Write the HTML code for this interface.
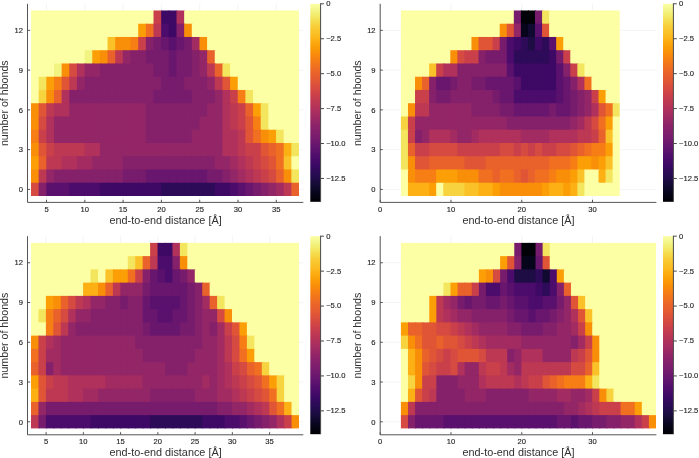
<!DOCTYPE html><html><head><meta charset="utf-8"><style>html,body{margin:0;padding:0;background:#fff;width:699px;height:458px;overflow:hidden}svg{display:block;will-change:transform}text{font-family:"Liberation Sans",sans-serif;fill:#262626;stroke:#262626;stroke-width:0.15px}</style></head><body>
<svg width="699" height="458" viewBox="0 0 699 458">
<defs><linearGradient id="cbg" x1="0" y1="0" x2="0" y2="1"><stop offset="0" stop-color="#fcffa4"/><stop offset="0.03" stop-color="#f3f68a"/><stop offset="0.06" stop-color="#f2ea69"/><stop offset="0.09" stop-color="#f5db4c"/><stop offset="0.12" stop-color="#f9cb35"/><stop offset="0.16" stop-color="#fbbc21"/><stop offset="0.19" stop-color="#fcac11"/><stop offset="0.22" stop-color="#fb9d07"/><stop offset="0.25" stop-color="#f98e09"/><stop offset="0.28" stop-color="#f68013"/><stop offset="0.31" stop-color="#f1731d"/><stop offset="0.34" stop-color="#eb6628"/><stop offset="0.38" stop-color="#e45a31"/><stop offset="0.41" stop-color="#db503b"/><stop offset="0.44" stop-color="#d24644"/><stop offset="0.47" stop-color="#c73e4c"/><stop offset="0.5" stop-color="#bc3754"/><stop offset="0.53" stop-color="#b0315b"/><stop offset="0.56" stop-color="#a32c61"/><stop offset="0.59" stop-color="#972766"/><stop offset="0.62" stop-color="#8a226a"/><stop offset="0.66" stop-color="#7d1e6d"/><stop offset="0.69" stop-color="#71196e"/><stop offset="0.72" stop-color="#64156e"/><stop offset="0.75" stop-color="#57106e"/><stop offset="0.78" stop-color="#4a0c6b"/><stop offset="0.81" stop-color="#3d0965"/><stop offset="0.84" stop-color="#2f0a5b"/><stop offset="0.88" stop-color="#210c4a"/><stop offset="0.91" stop-color="#150b37"/><stop offset="0.94" stop-color="#0b0724"/><stop offset="0.97" stop-color="#040312"/><stop offset="1" stop-color="#000004"/></linearGradient></defs>
<path d="M46.5 3.8V202.4M84.8 3.8V202.4M123.1 3.8V202.4M161.4 3.8V202.4M199.7 3.8V202.4M238 3.8V202.4M276.3 3.8V202.4M27.5 189.4H303.3M27.5 149.64H303.3M27.5 109.88H303.3M27.5 70.11H303.3M27.5 30.35H303.3" stroke="#efefef" stroke-width="0.7" fill="none"/>
<g><rect x="31" y="10.47" width="8.66" height="14.25" fill="#fcffa4"/><rect x="38.66" y="10.47" width="8.66" height="14.25" fill="#fcffa4"/><rect x="46.31" y="10.47" width="8.66" height="14.25" fill="#fcffa4"/><rect x="53.97" y="10.47" width="8.66" height="14.25" fill="#fcffa4"/><rect x="61.63" y="10.47" width="8.66" height="14.25" fill="#fcffa4"/><rect x="69.29" y="10.47" width="8.66" height="14.25" fill="#fcffa4"/><rect x="76.94" y="10.47" width="8.66" height="14.25" fill="#fcffa4"/><rect x="84.6" y="10.47" width="8.66" height="14.25" fill="#fcffa4"/><rect x="92.26" y="10.47" width="8.66" height="14.25" fill="#fcffa4"/><rect x="99.91" y="10.47" width="8.66" height="14.25" fill="#fcffa4"/><rect x="107.57" y="10.47" width="8.66" height="14.25" fill="#fcffa4"/><rect x="115.23" y="10.47" width="8.66" height="14.25" fill="#fcffa4"/><rect x="122.89" y="10.47" width="8.66" height="14.25" fill="#fcffa4"/><rect x="130.54" y="10.47" width="8.66" height="14.25" fill="#fcffa4"/><rect x="138.2" y="10.47" width="8.66" height="14.25" fill="#fcffa4"/><rect x="145.86" y="10.47" width="8.66" height="14.25" fill="#fcffa4"/><rect x="153.51" y="10.47" width="8.66" height="14.25" fill="#ca404a"/><rect x="161.17" y="10.47" width="8.66" height="14.25" fill="#3d0965"/><rect x="168.83" y="10.47" width="8.66" height="14.25" fill="#3d0965"/><rect x="176.49" y="10.47" width="8.66" height="14.25" fill="#b0315b"/><rect x="184.14" y="10.47" width="8.66" height="14.25" fill="#fcffa4"/><rect x="191.8" y="10.47" width="8.66" height="14.25" fill="#fcffa4"/><rect x="199.46" y="10.47" width="8.66" height="14.25" fill="#fcffa4"/><rect x="207.11" y="10.47" width="8.66" height="14.25" fill="#fcffa4"/><rect x="214.77" y="10.47" width="8.66" height="14.25" fill="#fcffa4"/><rect x="222.43" y="10.47" width="8.66" height="14.25" fill="#fcffa4"/><rect x="230.09" y="10.47" width="8.66" height="14.25" fill="#fcffa4"/><rect x="237.74" y="10.47" width="8.66" height="14.25" fill="#fcffa4"/><rect x="245.4" y="10.47" width="8.66" height="14.25" fill="#fcffa4"/><rect x="253.06" y="10.47" width="8.66" height="14.25" fill="#fcffa4"/><rect x="260.71" y="10.47" width="8.66" height="14.25" fill="#fcffa4"/><rect x="268.37" y="10.47" width="8.66" height="14.25" fill="#fcffa4"/><rect x="276.03" y="10.47" width="8.66" height="14.25" fill="#fcffa4"/><rect x="283.69" y="10.47" width="8.66" height="14.25" fill="#fcffa4"/><rect x="291.34" y="10.47" width="7.66" height="14.25" fill="#fcffa4"/><rect x="31" y="23.72" width="8.66" height="14.25" fill="#fcffa4"/><rect x="38.66" y="23.72" width="8.66" height="14.25" fill="#fcffa4"/><rect x="46.31" y="23.72" width="8.66" height="14.25" fill="#fcffa4"/><rect x="53.97" y="23.72" width="8.66" height="14.25" fill="#fcffa4"/><rect x="61.63" y="23.72" width="8.66" height="14.25" fill="#fcffa4"/><rect x="69.29" y="23.72" width="8.66" height="14.25" fill="#fcffa4"/><rect x="76.94" y="23.72" width="8.66" height="14.25" fill="#fcffa4"/><rect x="84.6" y="23.72" width="8.66" height="14.25" fill="#fcffa4"/><rect x="92.26" y="23.72" width="8.66" height="14.25" fill="#fcffa4"/><rect x="99.91" y="23.72" width="8.66" height="14.25" fill="#fcffa4"/><rect x="107.57" y="23.72" width="8.66" height="14.25" fill="#fcffa4"/><rect x="115.23" y="23.72" width="8.66" height="14.25" fill="#fcffa4"/><rect x="122.89" y="23.72" width="8.66" height="14.25" fill="#fcffa4"/><rect x="130.54" y="23.72" width="8.66" height="14.25" fill="#fcffa4"/><rect x="138.2" y="23.72" width="8.66" height="14.25" fill="#fc9f07"/><rect x="145.86" y="23.72" width="8.66" height="14.25" fill="#f06f20"/><rect x="153.51" y="23.72" width="8.66" height="14.25" fill="#bd3853"/><rect x="161.17" y="23.72" width="8.66" height="14.25" fill="#4c0c6b"/><rect x="168.83" y="23.72" width="8.66" height="14.25" fill="#3d0965"/><rect x="176.49" y="23.72" width="8.66" height="14.25" fill="#85216b"/><rect x="184.14" y="23.72" width="8.66" height="14.25" fill="#f98e09"/><rect x="191.8" y="23.72" width="8.66" height="14.25" fill="#fcffa4"/><rect x="199.46" y="23.72" width="8.66" height="14.25" fill="#fcffa4"/><rect x="207.11" y="23.72" width="8.66" height="14.25" fill="#fcffa4"/><rect x="214.77" y="23.72" width="8.66" height="14.25" fill="#fcffa4"/><rect x="222.43" y="23.72" width="8.66" height="14.25" fill="#fcffa4"/><rect x="230.09" y="23.72" width="8.66" height="14.25" fill="#fcffa4"/><rect x="237.74" y="23.72" width="8.66" height="14.25" fill="#fcffa4"/><rect x="245.4" y="23.72" width="8.66" height="14.25" fill="#fcffa4"/><rect x="253.06" y="23.72" width="8.66" height="14.25" fill="#fcffa4"/><rect x="260.71" y="23.72" width="8.66" height="14.25" fill="#fcffa4"/><rect x="268.37" y="23.72" width="8.66" height="14.25" fill="#fcffa4"/><rect x="276.03" y="23.72" width="8.66" height="14.25" fill="#fcffa4"/><rect x="283.69" y="23.72" width="8.66" height="14.25" fill="#fcffa4"/><rect x="291.34" y="23.72" width="7.66" height="14.25" fill="#fcffa4"/><rect x="31" y="36.97" width="8.66" height="14.25" fill="#fcffa4"/><rect x="38.66" y="36.97" width="8.66" height="14.25" fill="#fcffa4"/><rect x="46.31" y="36.97" width="8.66" height="14.25" fill="#fcffa4"/><rect x="53.97" y="36.97" width="8.66" height="14.25" fill="#fcffa4"/><rect x="61.63" y="36.97" width="8.66" height="14.25" fill="#fcffa4"/><rect x="69.29" y="36.97" width="8.66" height="14.25" fill="#fcffa4"/><rect x="76.94" y="36.97" width="8.66" height="14.25" fill="#fcffa4"/><rect x="84.6" y="36.97" width="8.66" height="14.25" fill="#fcffa4"/><rect x="92.26" y="36.97" width="8.66" height="14.25" fill="#fcffa4"/><rect x="99.91" y="36.97" width="8.66" height="14.25" fill="#fcffa4"/><rect x="107.57" y="36.97" width="8.66" height="14.25" fill="#fac228"/><rect x="115.23" y="36.97" width="8.66" height="14.25" fill="#f98e09"/><rect x="122.89" y="36.97" width="8.66" height="14.25" fill="#f98e09"/><rect x="130.54" y="36.97" width="8.66" height="14.25" fill="#f67e14"/><rect x="138.2" y="36.97" width="8.66" height="14.25" fill="#ca404a"/><rect x="145.86" y="36.97" width="8.66" height="14.25" fill="#85216b"/><rect x="153.51" y="36.97" width="8.66" height="14.25" fill="#771c6d"/><rect x="161.17" y="36.97" width="8.66" height="14.25" fill="#69166e"/><rect x="168.83" y="36.97" width="8.66" height="14.25" fill="#5a116e"/><rect x="176.49" y="36.97" width="8.66" height="14.25" fill="#69166e"/><rect x="184.14" y="36.97" width="8.66" height="14.25" fill="#771c6d"/><rect x="191.8" y="36.97" width="8.66" height="14.25" fill="#a22b62"/><rect x="199.46" y="36.97" width="8.66" height="14.25" fill="#f98e09"/><rect x="207.11" y="36.97" width="8.66" height="14.25" fill="#fcffa4"/><rect x="214.77" y="36.97" width="8.66" height="14.25" fill="#fcffa4"/><rect x="222.43" y="36.97" width="8.66" height="14.25" fill="#fcffa4"/><rect x="230.09" y="36.97" width="8.66" height="14.25" fill="#fcffa4"/><rect x="237.74" y="36.97" width="8.66" height="14.25" fill="#fcffa4"/><rect x="245.4" y="36.97" width="8.66" height="14.25" fill="#fcffa4"/><rect x="253.06" y="36.97" width="8.66" height="14.25" fill="#fcffa4"/><rect x="260.71" y="36.97" width="8.66" height="14.25" fill="#fcffa4"/><rect x="268.37" y="36.97" width="8.66" height="14.25" fill="#fcffa4"/><rect x="276.03" y="36.97" width="8.66" height="14.25" fill="#fcffa4"/><rect x="283.69" y="36.97" width="8.66" height="14.25" fill="#fcffa4"/><rect x="291.34" y="36.97" width="7.66" height="14.25" fill="#fcffa4"/><rect x="31" y="50.23" width="8.66" height="14.25" fill="#fcffa4"/><rect x="38.66" y="50.23" width="8.66" height="14.25" fill="#fcffa4"/><rect x="46.31" y="50.23" width="8.66" height="14.25" fill="#fcffa4"/><rect x="53.97" y="50.23" width="8.66" height="14.25" fill="#fcffa4"/><rect x="61.63" y="50.23" width="8.66" height="14.25" fill="#fcffa4"/><rect x="69.29" y="50.23" width="8.66" height="14.25" fill="#fcffa4"/><rect x="76.94" y="50.23" width="8.66" height="14.25" fill="#fcffa4"/><rect x="84.6" y="50.23" width="8.66" height="14.25" fill="#f2f482"/><rect x="92.26" y="50.23" width="8.66" height="14.25" fill="#fc9f07"/><rect x="99.91" y="50.23" width="8.66" height="14.25" fill="#f98e09"/><rect x="107.57" y="50.23" width="8.66" height="14.25" fill="#e9612b"/><rect x="115.23" y="50.23" width="8.66" height="14.25" fill="#bd3853"/><rect x="122.89" y="50.23" width="8.66" height="14.25" fill="#932667"/><rect x="130.54" y="50.23" width="8.66" height="14.25" fill="#85216b"/><rect x="138.2" y="50.23" width="8.66" height="14.25" fill="#85216b"/><rect x="145.86" y="50.23" width="8.66" height="14.25" fill="#771c6d"/><rect x="153.51" y="50.23" width="8.66" height="14.25" fill="#771c6d"/><rect x="161.17" y="50.23" width="8.66" height="14.25" fill="#771c6d"/><rect x="168.83" y="50.23" width="8.66" height="14.25" fill="#69166e"/><rect x="176.49" y="50.23" width="8.66" height="14.25" fill="#771c6d"/><rect x="184.14" y="50.23" width="8.66" height="14.25" fill="#771c6d"/><rect x="191.8" y="50.23" width="8.66" height="14.25" fill="#85216b"/><rect x="199.46" y="50.23" width="8.66" height="14.25" fill="#932667"/><rect x="207.11" y="50.23" width="8.66" height="14.25" fill="#e9612b"/><rect x="214.77" y="50.23" width="8.66" height="14.25" fill="#fcffa4"/><rect x="222.43" y="50.23" width="8.66" height="14.25" fill="#fcffa4"/><rect x="230.09" y="50.23" width="8.66" height="14.25" fill="#fcffa4"/><rect x="237.74" y="50.23" width="8.66" height="14.25" fill="#fcffa4"/><rect x="245.4" y="50.23" width="8.66" height="14.25" fill="#fcffa4"/><rect x="253.06" y="50.23" width="8.66" height="14.25" fill="#fcffa4"/><rect x="260.71" y="50.23" width="8.66" height="14.25" fill="#fcffa4"/><rect x="268.37" y="50.23" width="8.66" height="14.25" fill="#fcffa4"/><rect x="276.03" y="50.23" width="8.66" height="14.25" fill="#fcffa4"/><rect x="283.69" y="50.23" width="8.66" height="14.25" fill="#fcffa4"/><rect x="291.34" y="50.23" width="7.66" height="14.25" fill="#fcffa4"/><rect x="31" y="63.48" width="8.66" height="14.25" fill="#fcffa4"/><rect x="38.66" y="63.48" width="8.66" height="14.25" fill="#fcffa4"/><rect x="46.31" y="63.48" width="8.66" height="14.25" fill="#fcffa4"/><rect x="53.97" y="63.48" width="8.66" height="14.25" fill="#f2f482"/><rect x="61.63" y="63.48" width="8.66" height="14.25" fill="#f98e09"/><rect x="69.29" y="63.48" width="8.66" height="14.25" fill="#d54a41"/><rect x="76.94" y="63.48" width="8.66" height="14.25" fill="#b0315b"/><rect x="84.6" y="63.48" width="8.66" height="14.25" fill="#932667"/><rect x="92.26" y="63.48" width="8.66" height="14.25" fill="#932667"/><rect x="99.91" y="63.48" width="8.66" height="14.25" fill="#85216b"/><rect x="107.57" y="63.48" width="8.66" height="14.25" fill="#85216b"/><rect x="115.23" y="63.48" width="8.66" height="14.25" fill="#85216b"/><rect x="122.89" y="63.48" width="8.66" height="14.25" fill="#85216b"/><rect x="130.54" y="63.48" width="8.66" height="14.25" fill="#85216b"/><rect x="138.2" y="63.48" width="8.66" height="14.25" fill="#85216b"/><rect x="145.86" y="63.48" width="8.66" height="14.25" fill="#85216b"/><rect x="153.51" y="63.48" width="8.66" height="14.25" fill="#771c6d"/><rect x="161.17" y="63.48" width="8.66" height="14.25" fill="#771c6d"/><rect x="168.83" y="63.48" width="8.66" height="14.25" fill="#69166e"/><rect x="176.49" y="63.48" width="8.66" height="14.25" fill="#771c6d"/><rect x="184.14" y="63.48" width="8.66" height="14.25" fill="#771c6d"/><rect x="191.8" y="63.48" width="8.66" height="14.25" fill="#85216b"/><rect x="199.46" y="63.48" width="8.66" height="14.25" fill="#932667"/><rect x="207.11" y="63.48" width="8.66" height="14.25" fill="#bd3853"/><rect x="214.77" y="63.48" width="8.66" height="14.25" fill="#e9612b"/><rect x="222.43" y="63.48" width="8.66" height="14.25" fill="#f3e55d"/><rect x="230.09" y="63.48" width="8.66" height="14.25" fill="#fcffa4"/><rect x="237.74" y="63.48" width="8.66" height="14.25" fill="#fcffa4"/><rect x="245.4" y="63.48" width="8.66" height="14.25" fill="#fcffa4"/><rect x="253.06" y="63.48" width="8.66" height="14.25" fill="#fcffa4"/><rect x="260.71" y="63.48" width="8.66" height="14.25" fill="#fcffa4"/><rect x="268.37" y="63.48" width="8.66" height="14.25" fill="#fcffa4"/><rect x="276.03" y="63.48" width="8.66" height="14.25" fill="#fcffa4"/><rect x="283.69" y="63.48" width="8.66" height="14.25" fill="#fcffa4"/><rect x="291.34" y="63.48" width="7.66" height="14.25" fill="#fcffa4"/><rect x="31" y="76.73" width="8.66" height="14.25" fill="#fcffa4"/><rect x="38.66" y="76.73" width="8.66" height="14.25" fill="#f3e55d"/><rect x="46.31" y="76.73" width="8.66" height="14.25" fill="#fc9f07"/><rect x="53.97" y="76.73" width="8.66" height="14.25" fill="#f67e14"/><rect x="61.63" y="76.73" width="8.66" height="14.25" fill="#e05536"/><rect x="69.29" y="76.73" width="8.66" height="14.25" fill="#bd3853"/><rect x="76.94" y="76.73" width="8.66" height="14.25" fill="#932667"/><rect x="84.6" y="76.73" width="8.66" height="14.25" fill="#85216b"/><rect x="92.26" y="76.73" width="8.66" height="14.25" fill="#85216b"/><rect x="99.91" y="76.73" width="8.66" height="14.25" fill="#85216b"/><rect x="107.57" y="76.73" width="8.66" height="14.25" fill="#85216b"/><rect x="115.23" y="76.73" width="8.66" height="14.25" fill="#85216b"/><rect x="122.89" y="76.73" width="8.66" height="14.25" fill="#85216b"/><rect x="130.54" y="76.73" width="8.66" height="14.25" fill="#85216b"/><rect x="138.2" y="76.73" width="8.66" height="14.25" fill="#85216b"/><rect x="145.86" y="76.73" width="8.66" height="14.25" fill="#85216b"/><rect x="153.51" y="76.73" width="8.66" height="14.25" fill="#85216b"/><rect x="161.17" y="76.73" width="8.66" height="14.25" fill="#771c6d"/><rect x="168.83" y="76.73" width="8.66" height="14.25" fill="#771c6d"/><rect x="176.49" y="76.73" width="8.66" height="14.25" fill="#771c6d"/><rect x="184.14" y="76.73" width="8.66" height="14.25" fill="#85216b"/><rect x="191.8" y="76.73" width="8.66" height="14.25" fill="#85216b"/><rect x="199.46" y="76.73" width="8.66" height="14.25" fill="#85216b"/><rect x="207.11" y="76.73" width="8.66" height="14.25" fill="#932667"/><rect x="214.77" y="76.73" width="8.66" height="14.25" fill="#bd3853"/><rect x="222.43" y="76.73" width="8.66" height="14.25" fill="#e05536"/><rect x="230.09" y="76.73" width="8.66" height="14.25" fill="#fc9f07"/><rect x="237.74" y="76.73" width="8.66" height="14.25" fill="#fcffa4"/><rect x="245.4" y="76.73" width="8.66" height="14.25" fill="#fcffa4"/><rect x="253.06" y="76.73" width="8.66" height="14.25" fill="#fcffa4"/><rect x="260.71" y="76.73" width="8.66" height="14.25" fill="#fcffa4"/><rect x="268.37" y="76.73" width="8.66" height="14.25" fill="#fcffa4"/><rect x="276.03" y="76.73" width="8.66" height="14.25" fill="#fcffa4"/><rect x="283.69" y="76.73" width="8.66" height="14.25" fill="#fcffa4"/><rect x="291.34" y="76.73" width="7.66" height="14.25" fill="#fcffa4"/><rect x="31" y="89.98" width="8.66" height="14.25" fill="#fcffa4"/><rect x="38.66" y="89.98" width="8.66" height="14.25" fill="#f7d340"/><rect x="46.31" y="89.98" width="8.66" height="14.25" fill="#f98e09"/><rect x="53.97" y="89.98" width="8.66" height="14.25" fill="#e9612b"/><rect x="61.63" y="89.98" width="8.66" height="14.25" fill="#b0315b"/><rect x="69.29" y="89.98" width="8.66" height="14.25" fill="#85216b"/><rect x="76.94" y="89.98" width="8.66" height="14.25" fill="#85216b"/><rect x="84.6" y="89.98" width="8.66" height="14.25" fill="#85216b"/><rect x="92.26" y="89.98" width="8.66" height="14.25" fill="#85216b"/><rect x="99.91" y="89.98" width="8.66" height="14.25" fill="#85216b"/><rect x="107.57" y="89.98" width="8.66" height="14.25" fill="#85216b"/><rect x="115.23" y="89.98" width="8.66" height="14.25" fill="#85216b"/><rect x="122.89" y="89.98" width="8.66" height="14.25" fill="#85216b"/><rect x="130.54" y="89.98" width="8.66" height="14.25" fill="#85216b"/><rect x="138.2" y="89.98" width="8.66" height="14.25" fill="#85216b"/><rect x="145.86" y="89.98" width="8.66" height="14.25" fill="#85216b"/><rect x="153.51" y="89.98" width="8.66" height="14.25" fill="#771c6d"/><rect x="161.17" y="89.98" width="8.66" height="14.25" fill="#771c6d"/><rect x="168.83" y="89.98" width="8.66" height="14.25" fill="#771c6d"/><rect x="176.49" y="89.98" width="8.66" height="14.25" fill="#771c6d"/><rect x="184.14" y="89.98" width="8.66" height="14.25" fill="#771c6d"/><rect x="191.8" y="89.98" width="8.66" height="14.25" fill="#85216b"/><rect x="199.46" y="89.98" width="8.66" height="14.25" fill="#85216b"/><rect x="207.11" y="89.98" width="8.66" height="14.25" fill="#85216b"/><rect x="214.77" y="89.98" width="8.66" height="14.25" fill="#932667"/><rect x="222.43" y="89.98" width="8.66" height="14.25" fill="#b0315b"/><rect x="230.09" y="89.98" width="8.66" height="14.25" fill="#ca404a"/><rect x="237.74" y="89.98" width="8.66" height="14.25" fill="#f67e14"/><rect x="245.4" y="89.98" width="8.66" height="14.25" fill="#f3e55d"/><rect x="253.06" y="89.98" width="8.66" height="14.25" fill="#fcffa4"/><rect x="260.71" y="89.98" width="8.66" height="14.25" fill="#fcffa4"/><rect x="268.37" y="89.98" width="8.66" height="14.25" fill="#fcffa4"/><rect x="276.03" y="89.98" width="8.66" height="14.25" fill="#fcffa4"/><rect x="283.69" y="89.98" width="8.66" height="14.25" fill="#fcffa4"/><rect x="291.34" y="89.98" width="7.66" height="14.25" fill="#fcffa4"/><rect x="31" y="103.23" width="8.66" height="14.25" fill="#f98e09"/><rect x="38.66" y="103.23" width="8.66" height="14.25" fill="#e05536"/><rect x="46.31" y="103.23" width="8.66" height="14.25" fill="#bd3853"/><rect x="53.97" y="103.23" width="8.66" height="14.25" fill="#b0315b"/><rect x="61.63" y="103.23" width="8.66" height="14.25" fill="#b0315b"/><rect x="69.29" y="103.23" width="8.66" height="14.25" fill="#932667"/><rect x="76.94" y="103.23" width="8.66" height="14.25" fill="#932667"/><rect x="84.6" y="103.23" width="8.66" height="14.25" fill="#932667"/><rect x="92.26" y="103.23" width="8.66" height="14.25" fill="#932667"/><rect x="99.91" y="103.23" width="8.66" height="14.25" fill="#932667"/><rect x="107.57" y="103.23" width="8.66" height="14.25" fill="#932667"/><rect x="115.23" y="103.23" width="8.66" height="14.25" fill="#932667"/><rect x="122.89" y="103.23" width="8.66" height="14.25" fill="#932667"/><rect x="130.54" y="103.23" width="8.66" height="14.25" fill="#932667"/><rect x="138.2" y="103.23" width="8.66" height="14.25" fill="#932667"/><rect x="145.86" y="103.23" width="8.66" height="14.25" fill="#85216b"/><rect x="153.51" y="103.23" width="8.66" height="14.25" fill="#85216b"/><rect x="161.17" y="103.23" width="8.66" height="14.25" fill="#85216b"/><rect x="168.83" y="103.23" width="8.66" height="14.25" fill="#85216b"/><rect x="176.49" y="103.23" width="8.66" height="14.25" fill="#85216b"/><rect x="184.14" y="103.23" width="8.66" height="14.25" fill="#85216b"/><rect x="191.8" y="103.23" width="8.66" height="14.25" fill="#85216b"/><rect x="199.46" y="103.23" width="8.66" height="14.25" fill="#85216b"/><rect x="207.11" y="103.23" width="8.66" height="14.25" fill="#932667"/><rect x="214.77" y="103.23" width="8.66" height="14.25" fill="#932667"/><rect x="222.43" y="103.23" width="8.66" height="14.25" fill="#b0315b"/><rect x="230.09" y="103.23" width="8.66" height="14.25" fill="#bd3853"/><rect x="237.74" y="103.23" width="8.66" height="14.25" fill="#ca404a"/><rect x="245.4" y="103.23" width="8.66" height="14.25" fill="#e9612b"/><rect x="253.06" y="103.23" width="8.66" height="14.25" fill="#fc9f07"/><rect x="260.71" y="103.23" width="8.66" height="14.25" fill="#f3e55d"/><rect x="268.37" y="103.23" width="8.66" height="14.25" fill="#fcffa4"/><rect x="276.03" y="103.23" width="8.66" height="14.25" fill="#fcffa4"/><rect x="283.69" y="103.23" width="8.66" height="14.25" fill="#fcffa4"/><rect x="291.34" y="103.23" width="7.66" height="14.25" fill="#fcffa4"/><rect x="31" y="116.49" width="8.66" height="14.25" fill="#f98e09"/><rect x="38.66" y="116.49" width="8.66" height="14.25" fill="#d54a41"/><rect x="46.31" y="116.49" width="8.66" height="14.25" fill="#b0315b"/><rect x="53.97" y="116.49" width="8.66" height="14.25" fill="#932667"/><rect x="61.63" y="116.49" width="8.66" height="14.25" fill="#932667"/><rect x="69.29" y="116.49" width="8.66" height="14.25" fill="#932667"/><rect x="76.94" y="116.49" width="8.66" height="14.25" fill="#932667"/><rect x="84.6" y="116.49" width="8.66" height="14.25" fill="#932667"/><rect x="92.26" y="116.49" width="8.66" height="14.25" fill="#932667"/><rect x="99.91" y="116.49" width="8.66" height="14.25" fill="#932667"/><rect x="107.57" y="116.49" width="8.66" height="14.25" fill="#932667"/><rect x="115.23" y="116.49" width="8.66" height="14.25" fill="#932667"/><rect x="122.89" y="116.49" width="8.66" height="14.25" fill="#932667"/><rect x="130.54" y="116.49" width="8.66" height="14.25" fill="#932667"/><rect x="138.2" y="116.49" width="8.66" height="14.25" fill="#932667"/><rect x="145.86" y="116.49" width="8.66" height="14.25" fill="#85216b"/><rect x="153.51" y="116.49" width="8.66" height="14.25" fill="#85216b"/><rect x="161.17" y="116.49" width="8.66" height="14.25" fill="#85216b"/><rect x="168.83" y="116.49" width="8.66" height="14.25" fill="#85216b"/><rect x="176.49" y="116.49" width="8.66" height="14.25" fill="#85216b"/><rect x="184.14" y="116.49" width="8.66" height="14.25" fill="#85216b"/><rect x="191.8" y="116.49" width="8.66" height="14.25" fill="#85216b"/><rect x="199.46" y="116.49" width="8.66" height="14.25" fill="#932667"/><rect x="207.11" y="116.49" width="8.66" height="14.25" fill="#932667"/><rect x="214.77" y="116.49" width="8.66" height="14.25" fill="#932667"/><rect x="222.43" y="116.49" width="8.66" height="14.25" fill="#b0315b"/><rect x="230.09" y="116.49" width="8.66" height="14.25" fill="#bd3853"/><rect x="237.74" y="116.49" width="8.66" height="14.25" fill="#ca404a"/><rect x="245.4" y="116.49" width="8.66" height="14.25" fill="#e05536"/><rect x="253.06" y="116.49" width="8.66" height="14.25" fill="#f67e14"/><rect x="260.71" y="116.49" width="8.66" height="14.25" fill="#f3e55d"/><rect x="268.37" y="116.49" width="8.66" height="14.25" fill="#fcffa4"/><rect x="276.03" y="116.49" width="8.66" height="14.25" fill="#fcffa4"/><rect x="283.69" y="116.49" width="8.66" height="14.25" fill="#fcffa4"/><rect x="291.34" y="116.49" width="7.66" height="14.25" fill="#fcffa4"/><rect x="31" y="129.74" width="8.66" height="14.25" fill="#f67e14"/><rect x="38.66" y="129.74" width="8.66" height="14.25" fill="#ca404a"/><rect x="46.31" y="129.74" width="8.66" height="14.25" fill="#b0315b"/><rect x="53.97" y="129.74" width="8.66" height="14.25" fill="#932667"/><rect x="61.63" y="129.74" width="8.66" height="14.25" fill="#932667"/><rect x="69.29" y="129.74" width="8.66" height="14.25" fill="#932667"/><rect x="76.94" y="129.74" width="8.66" height="14.25" fill="#932667"/><rect x="84.6" y="129.74" width="8.66" height="14.25" fill="#932667"/><rect x="92.26" y="129.74" width="8.66" height="14.25" fill="#932667"/><rect x="99.91" y="129.74" width="8.66" height="14.25" fill="#932667"/><rect x="107.57" y="129.74" width="8.66" height="14.25" fill="#932667"/><rect x="115.23" y="129.74" width="8.66" height="14.25" fill="#932667"/><rect x="122.89" y="129.74" width="8.66" height="14.25" fill="#932667"/><rect x="130.54" y="129.74" width="8.66" height="14.25" fill="#932667"/><rect x="138.2" y="129.74" width="8.66" height="14.25" fill="#932667"/><rect x="145.86" y="129.74" width="8.66" height="14.25" fill="#85216b"/><rect x="153.51" y="129.74" width="8.66" height="14.25" fill="#85216b"/><rect x="161.17" y="129.74" width="8.66" height="14.25" fill="#85216b"/><rect x="168.83" y="129.74" width="8.66" height="14.25" fill="#85216b"/><rect x="176.49" y="129.74" width="8.66" height="14.25" fill="#85216b"/><rect x="184.14" y="129.74" width="8.66" height="14.25" fill="#85216b"/><rect x="191.8" y="129.74" width="8.66" height="14.25" fill="#932667"/><rect x="199.46" y="129.74" width="8.66" height="14.25" fill="#932667"/><rect x="207.11" y="129.74" width="8.66" height="14.25" fill="#932667"/><rect x="214.77" y="129.74" width="8.66" height="14.25" fill="#932667"/><rect x="222.43" y="129.74" width="8.66" height="14.25" fill="#b0315b"/><rect x="230.09" y="129.74" width="8.66" height="14.25" fill="#b0315b"/><rect x="237.74" y="129.74" width="8.66" height="14.25" fill="#bd3853"/><rect x="245.4" y="129.74" width="8.66" height="14.25" fill="#e05536"/><rect x="253.06" y="129.74" width="8.66" height="14.25" fill="#f06f20"/><rect x="260.71" y="129.74" width="8.66" height="14.25" fill="#f98e09"/><rect x="268.37" y="129.74" width="8.66" height="14.25" fill="#fc9f07"/><rect x="276.03" y="129.74" width="8.66" height="14.25" fill="#f3e55d"/><rect x="283.69" y="129.74" width="8.66" height="14.25" fill="#fcffa4"/><rect x="291.34" y="129.74" width="7.66" height="14.25" fill="#fcffa4"/><rect x="31" y="142.99" width="8.66" height="14.25" fill="#f98e09"/><rect x="38.66" y="142.99" width="8.66" height="14.25" fill="#e05536"/><rect x="46.31" y="142.99" width="8.66" height="14.25" fill="#ca404a"/><rect x="53.97" y="142.99" width="8.66" height="14.25" fill="#bd3853"/><rect x="61.63" y="142.99" width="8.66" height="14.25" fill="#bd3853"/><rect x="69.29" y="142.99" width="8.66" height="14.25" fill="#bd3853"/><rect x="76.94" y="142.99" width="8.66" height="14.25" fill="#bd3853"/><rect x="84.6" y="142.99" width="8.66" height="14.25" fill="#b0315b"/><rect x="92.26" y="142.99" width="8.66" height="14.25" fill="#b0315b"/><rect x="99.91" y="142.99" width="8.66" height="14.25" fill="#932667"/><rect x="107.57" y="142.99" width="8.66" height="14.25" fill="#932667"/><rect x="115.23" y="142.99" width="8.66" height="14.25" fill="#932667"/><rect x="122.89" y="142.99" width="8.66" height="14.25" fill="#932667"/><rect x="130.54" y="142.99" width="8.66" height="14.25" fill="#932667"/><rect x="138.2" y="142.99" width="8.66" height="14.25" fill="#932667"/><rect x="145.86" y="142.99" width="8.66" height="14.25" fill="#932667"/><rect x="153.51" y="142.99" width="8.66" height="14.25" fill="#932667"/><rect x="161.17" y="142.99" width="8.66" height="14.25" fill="#932667"/><rect x="168.83" y="142.99" width="8.66" height="14.25" fill="#932667"/><rect x="176.49" y="142.99" width="8.66" height="14.25" fill="#932667"/><rect x="184.14" y="142.99" width="8.66" height="14.25" fill="#932667"/><rect x="191.8" y="142.99" width="8.66" height="14.25" fill="#932667"/><rect x="199.46" y="142.99" width="8.66" height="14.25" fill="#932667"/><rect x="207.11" y="142.99" width="8.66" height="14.25" fill="#932667"/><rect x="214.77" y="142.99" width="8.66" height="14.25" fill="#932667"/><rect x="222.43" y="142.99" width="8.66" height="14.25" fill="#b0315b"/><rect x="230.09" y="142.99" width="8.66" height="14.25" fill="#b0315b"/><rect x="237.74" y="142.99" width="8.66" height="14.25" fill="#bd3853"/><rect x="245.4" y="142.99" width="8.66" height="14.25" fill="#ca404a"/><rect x="253.06" y="142.99" width="8.66" height="14.25" fill="#ca404a"/><rect x="260.71" y="142.99" width="8.66" height="14.25" fill="#e05536"/><rect x="268.37" y="142.99" width="8.66" height="14.25" fill="#e9612b"/><rect x="276.03" y="142.99" width="8.66" height="14.25" fill="#f06f20"/><rect x="283.69" y="142.99" width="8.66" height="14.25" fill="#fcb014"/><rect x="291.34" y="142.99" width="7.66" height="14.25" fill="#f3e55d"/><rect x="31" y="156.24" width="8.66" height="14.25" fill="#fc9f07"/><rect x="38.66" y="156.24" width="8.66" height="14.25" fill="#e9612b"/><rect x="46.31" y="156.24" width="8.66" height="14.25" fill="#bd3853"/><rect x="53.97" y="156.24" width="8.66" height="14.25" fill="#bd3853"/><rect x="61.63" y="156.24" width="8.66" height="14.25" fill="#b0315b"/><rect x="69.29" y="156.24" width="8.66" height="14.25" fill="#b0315b"/><rect x="76.94" y="156.24" width="8.66" height="14.25" fill="#a22b62"/><rect x="84.6" y="156.24" width="8.66" height="14.25" fill="#a22b62"/><rect x="92.26" y="156.24" width="8.66" height="14.25" fill="#932667"/><rect x="99.91" y="156.24" width="8.66" height="14.25" fill="#932667"/><rect x="107.57" y="156.24" width="8.66" height="14.25" fill="#932667"/><rect x="115.23" y="156.24" width="8.66" height="14.25" fill="#932667"/><rect x="122.89" y="156.24" width="8.66" height="14.25" fill="#85216b"/><rect x="130.54" y="156.24" width="8.66" height="14.25" fill="#85216b"/><rect x="138.2" y="156.24" width="8.66" height="14.25" fill="#85216b"/><rect x="145.86" y="156.24" width="8.66" height="14.25" fill="#85216b"/><rect x="153.51" y="156.24" width="8.66" height="14.25" fill="#85216b"/><rect x="161.17" y="156.24" width="8.66" height="14.25" fill="#85216b"/><rect x="168.83" y="156.24" width="8.66" height="14.25" fill="#85216b"/><rect x="176.49" y="156.24" width="8.66" height="14.25" fill="#85216b"/><rect x="184.14" y="156.24" width="8.66" height="14.25" fill="#85216b"/><rect x="191.8" y="156.24" width="8.66" height="14.25" fill="#85216b"/><rect x="199.46" y="156.24" width="8.66" height="14.25" fill="#85216b"/><rect x="207.11" y="156.24" width="8.66" height="14.25" fill="#85216b"/><rect x="214.77" y="156.24" width="8.66" height="14.25" fill="#932667"/><rect x="222.43" y="156.24" width="8.66" height="14.25" fill="#932667"/><rect x="230.09" y="156.24" width="8.66" height="14.25" fill="#a22b62"/><rect x="237.74" y="156.24" width="8.66" height="14.25" fill="#b0315b"/><rect x="245.4" y="156.24" width="8.66" height="14.25" fill="#bd3853"/><rect x="253.06" y="156.24" width="8.66" height="14.25" fill="#ca404a"/><rect x="260.71" y="156.24" width="8.66" height="14.25" fill="#d54a41"/><rect x="268.37" y="156.24" width="8.66" height="14.25" fill="#e05536"/><rect x="276.03" y="156.24" width="8.66" height="14.25" fill="#f06f20"/><rect x="283.69" y="156.24" width="8.66" height="14.25" fill="#fac228"/><rect x="291.34" y="156.24" width="7.66" height="14.25" fill="#fcffa4"/><rect x="31" y="169.5" width="8.66" height="14.25" fill="#f98e09"/><rect x="38.66" y="169.5" width="8.66" height="14.25" fill="#bd3853"/><rect x="46.31" y="169.5" width="8.66" height="14.25" fill="#932667"/><rect x="53.97" y="169.5" width="8.66" height="14.25" fill="#85216b"/><rect x="61.63" y="169.5" width="8.66" height="14.25" fill="#85216b"/><rect x="69.29" y="169.5" width="8.66" height="14.25" fill="#85216b"/><rect x="76.94" y="169.5" width="8.66" height="14.25" fill="#85216b"/><rect x="84.6" y="169.5" width="8.66" height="14.25" fill="#85216b"/><rect x="92.26" y="169.5" width="8.66" height="14.25" fill="#85216b"/><rect x="99.91" y="169.5" width="8.66" height="14.25" fill="#85216b"/><rect x="107.57" y="169.5" width="8.66" height="14.25" fill="#85216b"/><rect x="115.23" y="169.5" width="8.66" height="14.25" fill="#85216b"/><rect x="122.89" y="169.5" width="8.66" height="14.25" fill="#771c6d"/><rect x="130.54" y="169.5" width="8.66" height="14.25" fill="#771c6d"/><rect x="138.2" y="169.5" width="8.66" height="14.25" fill="#771c6d"/><rect x="145.86" y="169.5" width="8.66" height="14.25" fill="#69166e"/><rect x="153.51" y="169.5" width="8.66" height="14.25" fill="#69166e"/><rect x="161.17" y="169.5" width="8.66" height="14.25" fill="#69166e"/><rect x="168.83" y="169.5" width="8.66" height="14.25" fill="#69166e"/><rect x="176.49" y="169.5" width="8.66" height="14.25" fill="#69166e"/><rect x="184.14" y="169.5" width="8.66" height="14.25" fill="#69166e"/><rect x="191.8" y="169.5" width="8.66" height="14.25" fill="#69166e"/><rect x="199.46" y="169.5" width="8.66" height="14.25" fill="#69166e"/><rect x="207.11" y="169.5" width="8.66" height="14.25" fill="#771c6d"/><rect x="214.77" y="169.5" width="8.66" height="14.25" fill="#771c6d"/><rect x="222.43" y="169.5" width="8.66" height="14.25" fill="#85216b"/><rect x="230.09" y="169.5" width="8.66" height="14.25" fill="#932667"/><rect x="237.74" y="169.5" width="8.66" height="14.25" fill="#a22b62"/><rect x="245.4" y="169.5" width="8.66" height="14.25" fill="#b0315b"/><rect x="253.06" y="169.5" width="8.66" height="14.25" fill="#bd3853"/><rect x="260.71" y="169.5" width="8.66" height="14.25" fill="#ca404a"/><rect x="268.37" y="169.5" width="8.66" height="14.25" fill="#d54a41"/><rect x="276.03" y="169.5" width="8.66" height="14.25" fill="#e9612b"/><rect x="283.69" y="169.5" width="8.66" height="14.25" fill="#f98e09"/><rect x="291.34" y="169.5" width="7.66" height="14.25" fill="#f3e55d"/><rect x="31" y="182.75" width="8.66" height="13.25" fill="#d54a41"/><rect x="38.66" y="182.75" width="8.66" height="13.25" fill="#85216b"/><rect x="46.31" y="182.75" width="8.66" height="13.25" fill="#5a116e"/><rect x="53.97" y="182.75" width="8.66" height="13.25" fill="#5a116e"/><rect x="61.63" y="182.75" width="8.66" height="13.25" fill="#5a116e"/><rect x="69.29" y="182.75" width="8.66" height="13.25" fill="#4c0c6b"/><rect x="76.94" y="182.75" width="8.66" height="13.25" fill="#4c0c6b"/><rect x="84.6" y="182.75" width="8.66" height="13.25" fill="#4c0c6b"/><rect x="92.26" y="182.75" width="8.66" height="13.25" fill="#4c0c6b"/><rect x="99.91" y="182.75" width="8.66" height="13.25" fill="#3d0965"/><rect x="107.57" y="182.75" width="8.66" height="13.25" fill="#3d0965"/><rect x="115.23" y="182.75" width="8.66" height="13.25" fill="#3d0965"/><rect x="122.89" y="182.75" width="8.66" height="13.25" fill="#3d0965"/><rect x="130.54" y="182.75" width="8.66" height="13.25" fill="#3d0965"/><rect x="138.2" y="182.75" width="8.66" height="13.25" fill="#3d0965"/><rect x="145.86" y="182.75" width="8.66" height="13.25" fill="#3d0965"/><rect x="153.51" y="182.75" width="8.66" height="13.25" fill="#3d0965"/><rect x="161.17" y="182.75" width="8.66" height="13.25" fill="#2d0b59"/><rect x="168.83" y="182.75" width="8.66" height="13.25" fill="#2d0b59"/><rect x="176.49" y="182.75" width="8.66" height="13.25" fill="#2d0b59"/><rect x="184.14" y="182.75" width="8.66" height="13.25" fill="#2d0b59"/><rect x="191.8" y="182.75" width="8.66" height="13.25" fill="#2d0b59"/><rect x="199.46" y="182.75" width="8.66" height="13.25" fill="#2d0b59"/><rect x="207.11" y="182.75" width="8.66" height="13.25" fill="#2d0b59"/><rect x="214.77" y="182.75" width="8.66" height="13.25" fill="#3d0965"/><rect x="222.43" y="182.75" width="8.66" height="13.25" fill="#3d0965"/><rect x="230.09" y="182.75" width="8.66" height="13.25" fill="#4c0c6b"/><rect x="237.74" y="182.75" width="8.66" height="13.25" fill="#5a116e"/><rect x="245.4" y="182.75" width="8.66" height="13.25" fill="#69166e"/><rect x="253.06" y="182.75" width="8.66" height="13.25" fill="#771c6d"/><rect x="260.71" y="182.75" width="8.66" height="13.25" fill="#85216b"/><rect x="268.37" y="182.75" width="8.66" height="13.25" fill="#932667"/><rect x="276.03" y="182.75" width="8.66" height="13.25" fill="#a22b62"/><rect x="283.69" y="182.75" width="8.66" height="13.25" fill="#bd3853"/><rect x="291.34" y="182.75" width="7.66" height="13.25" fill="#e9612b"/></g>
<path d="M27.5 3.8V202.4H303.3" stroke="#555" stroke-width="1" fill="none"/>
<path d="M46.5 202.4v-2.6M84.8 202.4v-2.6M123.1 202.4v-2.6M161.4 202.4v-2.6M199.7 202.4v-2.6M238 202.4v-2.6M276.3 202.4v-2.6M27.5 189.4h2.6M27.5 149.64h2.6M27.5 109.88h2.6M27.5 70.11h2.6M27.5 30.35h2.6" stroke="#555" stroke-width="1" fill="none"/>
<g font-size="7.6"><text x="46.5" y="212" text-anchor="middle">5</text><text x="84.8" y="212" text-anchor="middle">10</text><text x="123.1" y="212" text-anchor="middle">15</text><text x="161.4" y="212" text-anchor="middle">20</text><text x="199.7" y="212" text-anchor="middle">25</text><text x="238" y="212" text-anchor="middle">30</text><text x="276.3" y="212" text-anchor="middle">35</text><text x="22.9" y="192.1" text-anchor="end">0</text><text x="22.9" y="152.34" text-anchor="end">3</text><text x="22.9" y="112.58" text-anchor="end">6</text><text x="22.9" y="72.81" text-anchor="end">9</text><text x="22.9" y="33.05" text-anchor="end">12</text></g>
<text x="165.6" y="223.6" text-anchor="middle" font-size="10.85" style="stroke:none;fill:#303030">end-to-end distance [Å]</text>
<text transform="translate(8.3 103.2) rotate(-90)" text-anchor="middle" font-size="10.65" style="stroke:none;fill:#303030">number of hbonds</text>
<rect x="310.3" y="3.8" width="10.3" height="198" fill="url(#cbg)"/>
<path d="M320.6 3.3V201.8" stroke="#4a4a4a" stroke-width="1" fill="none"/>
<path d="M320.6 3.8h3.4M320.6 38.73h3.4M320.6 73.67h3.4M320.6 108.6h3.4M320.6 143.53h3.4M320.6 178.46h3.4" stroke="#4a4a4a" stroke-width="1" fill="none"/>
<g font-size="7.6"><text x="326.2" y="6.2">0</text><text x="326.2" y="41.13">−2.5</text><text x="326.2" y="76.07">−5.0</text><text x="326.2" y="111">−7.5</text><text x="326.2" y="145.93">−10.0</text><text x="326.2" y="180.86">−12.5</text></g>
<path d="M380.2 3.8V202.4M450.97 3.8V202.4M521.74 3.8V202.4M592.51 3.8V202.4M380.2 189.4H656.4M380.2 149.64H656.4M380.2 109.88H656.4M380.2 70.11H656.4M380.2 30.35H656.4" stroke="#efefef" stroke-width="0.7" fill="none"/>
<g><rect x="400.9" y="10.47" width="8.06" height="14.25" fill="#fcffa4"/><rect x="407.96" y="10.47" width="8.06" height="14.25" fill="#fcffa4"/><rect x="415.02" y="10.47" width="8.06" height="14.25" fill="#fcffa4"/><rect x="422.07" y="10.47" width="8.06" height="14.25" fill="#fcffa4"/><rect x="429.13" y="10.47" width="8.06" height="14.25" fill="#fcffa4"/><rect x="436.19" y="10.47" width="8.06" height="14.25" fill="#fcffa4"/><rect x="443.25" y="10.47" width="8.06" height="14.25" fill="#fcffa4"/><rect x="450.31" y="10.47" width="8.06" height="14.25" fill="#fcffa4"/><rect x="457.36" y="10.47" width="8.06" height="14.25" fill="#fcffa4"/><rect x="464.42" y="10.47" width="8.06" height="14.25" fill="#fcffa4"/><rect x="471.48" y="10.47" width="8.06" height="14.25" fill="#fcffa4"/><rect x="478.54" y="10.47" width="8.06" height="14.25" fill="#fcffa4"/><rect x="485.6" y="10.47" width="8.06" height="14.25" fill="#fcffa4"/><rect x="492.65" y="10.47" width="8.06" height="14.25" fill="#fcffa4"/><rect x="499.71" y="10.47" width="8.06" height="14.25" fill="#fcffa4"/><rect x="506.77" y="10.47" width="8.06" height="14.25" fill="#fcffa4"/><rect x="513.83" y="10.47" width="8.06" height="14.25" fill="#771c6d"/><rect x="520.89" y="10.47" width="8.06" height="14.25" fill="#010108"/><rect x="527.95" y="10.47" width="8.06" height="14.25" fill="#010108"/><rect x="535" y="10.47" width="8.06" height="14.25" fill="#771c6d"/><rect x="542.06" y="10.47" width="8.06" height="14.25" fill="#f3e55d"/><rect x="549.12" y="10.47" width="8.06" height="14.25" fill="#fcffa4"/><rect x="556.18" y="10.47" width="8.06" height="14.25" fill="#fcffa4"/><rect x="563.24" y="10.47" width="8.06" height="14.25" fill="#fcffa4"/><rect x="570.29" y="10.47" width="8.06" height="14.25" fill="#fcffa4"/><rect x="577.35" y="10.47" width="8.06" height="14.25" fill="#fcffa4"/><rect x="584.41" y="10.47" width="8.06" height="14.25" fill="#fcffa4"/><rect x="591.47" y="10.47" width="8.06" height="14.25" fill="#fcffa4"/><rect x="598.53" y="10.47" width="8.06" height="14.25" fill="#fcffa4"/><rect x="605.58" y="10.47" width="8.06" height="14.25" fill="#fcffa4"/><rect x="612.64" y="10.47" width="7.06" height="14.25" fill="#fcffa4"/><rect x="400.9" y="23.72" width="8.06" height="14.25" fill="#fcffa4"/><rect x="407.96" y="23.72" width="8.06" height="14.25" fill="#fcffa4"/><rect x="415.02" y="23.72" width="8.06" height="14.25" fill="#fcffa4"/><rect x="422.07" y="23.72" width="8.06" height="14.25" fill="#fcffa4"/><rect x="429.13" y="23.72" width="8.06" height="14.25" fill="#fcffa4"/><rect x="436.19" y="23.72" width="8.06" height="14.25" fill="#fcffa4"/><rect x="443.25" y="23.72" width="8.06" height="14.25" fill="#fcffa4"/><rect x="450.31" y="23.72" width="8.06" height="14.25" fill="#fcffa4"/><rect x="457.36" y="23.72" width="8.06" height="14.25" fill="#fcffa4"/><rect x="464.42" y="23.72" width="8.06" height="14.25" fill="#fcffa4"/><rect x="471.48" y="23.72" width="8.06" height="14.25" fill="#fcffa4"/><rect x="478.54" y="23.72" width="8.06" height="14.25" fill="#fcffa4"/><rect x="485.6" y="23.72" width="8.06" height="14.25" fill="#fcffa4"/><rect x="492.65" y="23.72" width="8.06" height="14.25" fill="#fcffa4"/><rect x="499.71" y="23.72" width="8.06" height="14.25" fill="#f98e09"/><rect x="506.77" y="23.72" width="8.06" height="14.25" fill="#e05536"/><rect x="513.83" y="23.72" width="8.06" height="14.25" fill="#932667"/><rect x="520.89" y="23.72" width="8.06" height="14.25" fill="#07051b"/><rect x="527.95" y="23.72" width="8.06" height="14.25" fill="#110a30"/><rect x="535" y="23.72" width="8.06" height="14.25" fill="#5a116e"/><rect x="542.06" y="23.72" width="8.06" height="14.25" fill="#e05536"/><rect x="549.12" y="23.72" width="8.06" height="14.25" fill="#fcffa4"/><rect x="556.18" y="23.72" width="8.06" height="14.25" fill="#fcffa4"/><rect x="563.24" y="23.72" width="8.06" height="14.25" fill="#fcffa4"/><rect x="570.29" y="23.72" width="8.06" height="14.25" fill="#fcffa4"/><rect x="577.35" y="23.72" width="8.06" height="14.25" fill="#fcffa4"/><rect x="584.41" y="23.72" width="8.06" height="14.25" fill="#fcffa4"/><rect x="591.47" y="23.72" width="8.06" height="14.25" fill="#fcffa4"/><rect x="598.53" y="23.72" width="8.06" height="14.25" fill="#fcffa4"/><rect x="605.58" y="23.72" width="8.06" height="14.25" fill="#fcffa4"/><rect x="612.64" y="23.72" width="7.06" height="14.25" fill="#fcffa4"/><rect x="400.9" y="36.97" width="8.06" height="14.25" fill="#fcffa4"/><rect x="407.96" y="36.97" width="8.06" height="14.25" fill="#fcffa4"/><rect x="415.02" y="36.97" width="8.06" height="14.25" fill="#fcffa4"/><rect x="422.07" y="36.97" width="8.06" height="14.25" fill="#fcffa4"/><rect x="429.13" y="36.97" width="8.06" height="14.25" fill="#fcffa4"/><rect x="436.19" y="36.97" width="8.06" height="14.25" fill="#fcffa4"/><rect x="443.25" y="36.97" width="8.06" height="14.25" fill="#fcffa4"/><rect x="450.31" y="36.97" width="8.06" height="14.25" fill="#fcffa4"/><rect x="457.36" y="36.97" width="8.06" height="14.25" fill="#fcffa4"/><rect x="464.42" y="36.97" width="8.06" height="14.25" fill="#fcffa4"/><rect x="471.48" y="36.97" width="8.06" height="14.25" fill="#f98e09"/><rect x="478.54" y="36.97" width="8.06" height="14.25" fill="#e05536"/><rect x="485.6" y="36.97" width="8.06" height="14.25" fill="#e05536"/><rect x="492.65" y="36.97" width="8.06" height="14.25" fill="#ca404a"/><rect x="499.71" y="36.97" width="8.06" height="14.25" fill="#771c6d"/><rect x="506.77" y="36.97" width="8.06" height="14.25" fill="#4c0c6b"/><rect x="513.83" y="36.97" width="8.06" height="14.25" fill="#3d0965"/><rect x="520.89" y="36.97" width="8.06" height="14.25" fill="#2d0b59"/><rect x="527.95" y="36.97" width="8.06" height="14.25" fill="#1e0c45"/><rect x="535" y="36.97" width="8.06" height="14.25" fill="#3d0965"/><rect x="542.06" y="36.97" width="8.06" height="14.25" fill="#2d0b59"/><rect x="549.12" y="36.97" width="8.06" height="14.25" fill="#5a116e"/><rect x="556.18" y="36.97" width="8.06" height="14.25" fill="#fc9f07"/><rect x="563.24" y="36.97" width="8.06" height="14.25" fill="#fcffa4"/><rect x="570.29" y="36.97" width="8.06" height="14.25" fill="#fcffa4"/><rect x="577.35" y="36.97" width="8.06" height="14.25" fill="#fcffa4"/><rect x="584.41" y="36.97" width="8.06" height="14.25" fill="#fcffa4"/><rect x="591.47" y="36.97" width="8.06" height="14.25" fill="#fcffa4"/><rect x="598.53" y="36.97" width="8.06" height="14.25" fill="#fcffa4"/><rect x="605.58" y="36.97" width="8.06" height="14.25" fill="#fcffa4"/><rect x="612.64" y="36.97" width="7.06" height="14.25" fill="#fcffa4"/><rect x="400.9" y="50.23" width="8.06" height="14.25" fill="#fcffa4"/><rect x="407.96" y="50.23" width="8.06" height="14.25" fill="#fcffa4"/><rect x="415.02" y="50.23" width="8.06" height="14.25" fill="#fcffa4"/><rect x="422.07" y="50.23" width="8.06" height="14.25" fill="#fcffa4"/><rect x="429.13" y="50.23" width="8.06" height="14.25" fill="#fcffa4"/><rect x="436.19" y="50.23" width="8.06" height="14.25" fill="#fcffa4"/><rect x="443.25" y="50.23" width="8.06" height="14.25" fill="#fcffa4"/><rect x="450.31" y="50.23" width="8.06" height="14.25" fill="#f98e09"/><rect x="457.36" y="50.23" width="8.06" height="14.25" fill="#d54a41"/><rect x="464.42" y="50.23" width="8.06" height="14.25" fill="#ca404a"/><rect x="471.48" y="50.23" width="8.06" height="14.25" fill="#ca404a"/><rect x="478.54" y="50.23" width="8.06" height="14.25" fill="#85216b"/><rect x="485.6" y="50.23" width="8.06" height="14.25" fill="#771c6d"/><rect x="492.65" y="50.23" width="8.06" height="14.25" fill="#771c6d"/><rect x="499.71" y="50.23" width="8.06" height="14.25" fill="#771c6d"/><rect x="506.77" y="50.23" width="8.06" height="14.25" fill="#4c0c6b"/><rect x="513.83" y="50.23" width="8.06" height="14.25" fill="#2d0b59"/><rect x="520.89" y="50.23" width="8.06" height="14.25" fill="#2d0b59"/><rect x="527.95" y="50.23" width="8.06" height="14.25" fill="#2d0b59"/><rect x="535" y="50.23" width="8.06" height="14.25" fill="#2d0b59"/><rect x="542.06" y="50.23" width="8.06" height="14.25" fill="#2d0b59"/><rect x="549.12" y="50.23" width="8.06" height="14.25" fill="#3d0965"/><rect x="556.18" y="50.23" width="8.06" height="14.25" fill="#771c6d"/><rect x="563.24" y="50.23" width="8.06" height="14.25" fill="#ca404a"/><rect x="570.29" y="50.23" width="8.06" height="14.25" fill="#fcffa4"/><rect x="577.35" y="50.23" width="8.06" height="14.25" fill="#fcffa4"/><rect x="584.41" y="50.23" width="8.06" height="14.25" fill="#fcffa4"/><rect x="591.47" y="50.23" width="8.06" height="14.25" fill="#fcffa4"/><rect x="598.53" y="50.23" width="8.06" height="14.25" fill="#fcffa4"/><rect x="605.58" y="50.23" width="8.06" height="14.25" fill="#fcffa4"/><rect x="612.64" y="50.23" width="7.06" height="14.25" fill="#fcffa4"/><rect x="400.9" y="63.48" width="8.06" height="14.25" fill="#fcffa4"/><rect x="407.96" y="63.48" width="8.06" height="14.25" fill="#fcffa4"/><rect x="415.02" y="63.48" width="8.06" height="14.25" fill="#fcffa4"/><rect x="422.07" y="63.48" width="8.06" height="14.25" fill="#fcffa4"/><rect x="429.13" y="63.48" width="8.06" height="14.25" fill="#fac228"/><rect x="436.19" y="63.48" width="8.06" height="14.25" fill="#ca404a"/><rect x="443.25" y="63.48" width="8.06" height="14.25" fill="#b0315b"/><rect x="450.31" y="63.48" width="8.06" height="14.25" fill="#b0315b"/><rect x="457.36" y="63.48" width="8.06" height="14.25" fill="#85216b"/><rect x="464.42" y="63.48" width="8.06" height="14.25" fill="#85216b"/><rect x="471.48" y="63.48" width="8.06" height="14.25" fill="#85216b"/><rect x="478.54" y="63.48" width="8.06" height="14.25" fill="#85216b"/><rect x="485.6" y="63.48" width="8.06" height="14.25" fill="#85216b"/><rect x="492.65" y="63.48" width="8.06" height="14.25" fill="#85216b"/><rect x="499.71" y="63.48" width="8.06" height="14.25" fill="#85216b"/><rect x="506.77" y="63.48" width="8.06" height="14.25" fill="#5a116e"/><rect x="513.83" y="63.48" width="8.06" height="14.25" fill="#3d0965"/><rect x="520.89" y="63.48" width="8.06" height="14.25" fill="#3d0965"/><rect x="527.95" y="63.48" width="8.06" height="14.25" fill="#3d0965"/><rect x="535" y="63.48" width="8.06" height="14.25" fill="#3d0965"/><rect x="542.06" y="63.48" width="8.06" height="14.25" fill="#3d0965"/><rect x="549.12" y="63.48" width="8.06" height="14.25" fill="#3d0965"/><rect x="556.18" y="63.48" width="8.06" height="14.25" fill="#5a116e"/><rect x="563.24" y="63.48" width="8.06" height="14.25" fill="#85216b"/><rect x="570.29" y="63.48" width="8.06" height="14.25" fill="#ca404a"/><rect x="577.35" y="63.48" width="8.06" height="14.25" fill="#f3e55d"/><rect x="584.41" y="63.48" width="8.06" height="14.25" fill="#fcffa4"/><rect x="591.47" y="63.48" width="8.06" height="14.25" fill="#fcffa4"/><rect x="598.53" y="63.48" width="8.06" height="14.25" fill="#fcffa4"/><rect x="605.58" y="63.48" width="8.06" height="14.25" fill="#fcffa4"/><rect x="612.64" y="63.48" width="7.06" height="14.25" fill="#fcffa4"/><rect x="400.9" y="76.73" width="8.06" height="14.25" fill="#fcffa4"/><rect x="407.96" y="76.73" width="8.06" height="14.25" fill="#fcffa4"/><rect x="415.02" y="76.73" width="8.06" height="14.25" fill="#f98e09"/><rect x="422.07" y="76.73" width="8.06" height="14.25" fill="#e9612b"/><rect x="429.13" y="76.73" width="8.06" height="14.25" fill="#85216b"/><rect x="436.19" y="76.73" width="8.06" height="14.25" fill="#69166e"/><rect x="443.25" y="76.73" width="8.06" height="14.25" fill="#69166e"/><rect x="450.31" y="76.73" width="8.06" height="14.25" fill="#771c6d"/><rect x="457.36" y="76.73" width="8.06" height="14.25" fill="#85216b"/><rect x="464.42" y="76.73" width="8.06" height="14.25" fill="#85216b"/><rect x="471.48" y="76.73" width="8.06" height="14.25" fill="#771c6d"/><rect x="478.54" y="76.73" width="8.06" height="14.25" fill="#771c6d"/><rect x="485.6" y="76.73" width="8.06" height="14.25" fill="#69166e"/><rect x="492.65" y="76.73" width="8.06" height="14.25" fill="#69166e"/><rect x="499.71" y="76.73" width="8.06" height="14.25" fill="#69166e"/><rect x="506.77" y="76.73" width="8.06" height="14.25" fill="#69166e"/><rect x="513.83" y="76.73" width="8.06" height="14.25" fill="#5a116e"/><rect x="520.89" y="76.73" width="8.06" height="14.25" fill="#3d0965"/><rect x="527.95" y="76.73" width="8.06" height="14.25" fill="#3d0965"/><rect x="535" y="76.73" width="8.06" height="14.25" fill="#3d0965"/><rect x="542.06" y="76.73" width="8.06" height="14.25" fill="#3d0965"/><rect x="549.12" y="76.73" width="8.06" height="14.25" fill="#3d0965"/><rect x="556.18" y="76.73" width="8.06" height="14.25" fill="#5a116e"/><rect x="563.24" y="76.73" width="8.06" height="14.25" fill="#69166e"/><rect x="570.29" y="76.73" width="8.06" height="14.25" fill="#85216b"/><rect x="577.35" y="76.73" width="8.06" height="14.25" fill="#b0315b"/><rect x="584.41" y="76.73" width="8.06" height="14.25" fill="#f06f20"/><rect x="591.47" y="76.73" width="8.06" height="14.25" fill="#fcffa4"/><rect x="598.53" y="76.73" width="8.06" height="14.25" fill="#fcffa4"/><rect x="605.58" y="76.73" width="8.06" height="14.25" fill="#fcffa4"/><rect x="612.64" y="76.73" width="7.06" height="14.25" fill="#fcffa4"/><rect x="400.9" y="89.98" width="8.06" height="14.25" fill="#fcffa4"/><rect x="407.96" y="89.98" width="8.06" height="14.25" fill="#fcffa4"/><rect x="415.02" y="89.98" width="8.06" height="14.25" fill="#ca404a"/><rect x="422.07" y="89.98" width="8.06" height="14.25" fill="#ca404a"/><rect x="429.13" y="89.98" width="8.06" height="14.25" fill="#85216b"/><rect x="436.19" y="89.98" width="8.06" height="14.25" fill="#771c6d"/><rect x="443.25" y="89.98" width="8.06" height="14.25" fill="#771c6d"/><rect x="450.31" y="89.98" width="8.06" height="14.25" fill="#85216b"/><rect x="457.36" y="89.98" width="8.06" height="14.25" fill="#85216b"/><rect x="464.42" y="89.98" width="8.06" height="14.25" fill="#85216b"/><rect x="471.48" y="89.98" width="8.06" height="14.25" fill="#85216b"/><rect x="478.54" y="89.98" width="8.06" height="14.25" fill="#85216b"/><rect x="485.6" y="89.98" width="8.06" height="14.25" fill="#85216b"/><rect x="492.65" y="89.98" width="8.06" height="14.25" fill="#771c6d"/><rect x="499.71" y="89.98" width="8.06" height="14.25" fill="#69166e"/><rect x="506.77" y="89.98" width="8.06" height="14.25" fill="#69166e"/><rect x="513.83" y="89.98" width="8.06" height="14.25" fill="#4c0c6b"/><rect x="520.89" y="89.98" width="8.06" height="14.25" fill="#4c0c6b"/><rect x="527.95" y="89.98" width="8.06" height="14.25" fill="#4c0c6b"/><rect x="535" y="89.98" width="8.06" height="14.25" fill="#4c0c6b"/><rect x="542.06" y="89.98" width="8.06" height="14.25" fill="#4c0c6b"/><rect x="549.12" y="89.98" width="8.06" height="14.25" fill="#4c0c6b"/><rect x="556.18" y="89.98" width="8.06" height="14.25" fill="#5a116e"/><rect x="563.24" y="89.98" width="8.06" height="14.25" fill="#69166e"/><rect x="570.29" y="89.98" width="8.06" height="14.25" fill="#771c6d"/><rect x="577.35" y="89.98" width="8.06" height="14.25" fill="#85216b"/><rect x="584.41" y="89.98" width="8.06" height="14.25" fill="#932667"/><rect x="591.47" y="89.98" width="8.06" height="14.25" fill="#ca404a"/><rect x="598.53" y="89.98" width="8.06" height="14.25" fill="#fc9f07"/><rect x="605.58" y="89.98" width="8.06" height="14.25" fill="#fcffa4"/><rect x="612.64" y="89.98" width="7.06" height="14.25" fill="#fcffa4"/><rect x="400.9" y="103.23" width="8.06" height="14.25" fill="#fcffa4"/><rect x="407.96" y="103.23" width="8.06" height="14.25" fill="#f98e09"/><rect x="415.02" y="103.23" width="8.06" height="14.25" fill="#bd3853"/><rect x="422.07" y="103.23" width="8.06" height="14.25" fill="#bd3853"/><rect x="429.13" y="103.23" width="8.06" height="14.25" fill="#932667"/><rect x="436.19" y="103.23" width="8.06" height="14.25" fill="#932667"/><rect x="443.25" y="103.23" width="8.06" height="14.25" fill="#932667"/><rect x="450.31" y="103.23" width="8.06" height="14.25" fill="#932667"/><rect x="457.36" y="103.23" width="8.06" height="14.25" fill="#932667"/><rect x="464.42" y="103.23" width="8.06" height="14.25" fill="#932667"/><rect x="471.48" y="103.23" width="8.06" height="14.25" fill="#85216b"/><rect x="478.54" y="103.23" width="8.06" height="14.25" fill="#85216b"/><rect x="485.6" y="103.23" width="8.06" height="14.25" fill="#85216b"/><rect x="492.65" y="103.23" width="8.06" height="14.25" fill="#85216b"/><rect x="499.71" y="103.23" width="8.06" height="14.25" fill="#771c6d"/><rect x="506.77" y="103.23" width="8.06" height="14.25" fill="#771c6d"/><rect x="513.83" y="103.23" width="8.06" height="14.25" fill="#69166e"/><rect x="520.89" y="103.23" width="8.06" height="14.25" fill="#69166e"/><rect x="527.95" y="103.23" width="8.06" height="14.25" fill="#69166e"/><rect x="535" y="103.23" width="8.06" height="14.25" fill="#69166e"/><rect x="542.06" y="103.23" width="8.06" height="14.25" fill="#69166e"/><rect x="549.12" y="103.23" width="8.06" height="14.25" fill="#771c6d"/><rect x="556.18" y="103.23" width="8.06" height="14.25" fill="#69166e"/><rect x="563.24" y="103.23" width="8.06" height="14.25" fill="#69166e"/><rect x="570.29" y="103.23" width="8.06" height="14.25" fill="#771c6d"/><rect x="577.35" y="103.23" width="8.06" height="14.25" fill="#85216b"/><rect x="584.41" y="103.23" width="8.06" height="14.25" fill="#932667"/><rect x="591.47" y="103.23" width="8.06" height="14.25" fill="#b0315b"/><rect x="598.53" y="103.23" width="8.06" height="14.25" fill="#e05536"/><rect x="605.58" y="103.23" width="8.06" height="14.25" fill="#f06f20"/><rect x="612.64" y="103.23" width="7.06" height="14.25" fill="#f3e55d"/><rect x="400.9" y="116.49" width="8.06" height="14.25" fill="#f7d340"/><rect x="407.96" y="116.49" width="8.06" height="14.25" fill="#ca404a"/><rect x="415.02" y="116.49" width="8.06" height="14.25" fill="#932667"/><rect x="422.07" y="116.49" width="8.06" height="14.25" fill="#932667"/><rect x="429.13" y="116.49" width="8.06" height="14.25" fill="#932667"/><rect x="436.19" y="116.49" width="8.06" height="14.25" fill="#932667"/><rect x="443.25" y="116.49" width="8.06" height="14.25" fill="#932667"/><rect x="450.31" y="116.49" width="8.06" height="14.25" fill="#932667"/><rect x="457.36" y="116.49" width="8.06" height="14.25" fill="#932667"/><rect x="464.42" y="116.49" width="8.06" height="14.25" fill="#932667"/><rect x="471.48" y="116.49" width="8.06" height="14.25" fill="#932667"/><rect x="478.54" y="116.49" width="8.06" height="14.25" fill="#932667"/><rect x="485.6" y="116.49" width="8.06" height="14.25" fill="#932667"/><rect x="492.65" y="116.49" width="8.06" height="14.25" fill="#932667"/><rect x="499.71" y="116.49" width="8.06" height="14.25" fill="#932667"/><rect x="506.77" y="116.49" width="8.06" height="14.25" fill="#85216b"/><rect x="513.83" y="116.49" width="8.06" height="14.25" fill="#85216b"/><rect x="520.89" y="116.49" width="8.06" height="14.25" fill="#85216b"/><rect x="527.95" y="116.49" width="8.06" height="14.25" fill="#85216b"/><rect x="535" y="116.49" width="8.06" height="14.25" fill="#85216b"/><rect x="542.06" y="116.49" width="8.06" height="14.25" fill="#85216b"/><rect x="549.12" y="116.49" width="8.06" height="14.25" fill="#85216b"/><rect x="556.18" y="116.49" width="8.06" height="14.25" fill="#85216b"/><rect x="563.24" y="116.49" width="8.06" height="14.25" fill="#85216b"/><rect x="570.29" y="116.49" width="8.06" height="14.25" fill="#932667"/><rect x="577.35" y="116.49" width="8.06" height="14.25" fill="#a22b62"/><rect x="584.41" y="116.49" width="8.06" height="14.25" fill="#bd3853"/><rect x="591.47" y="116.49" width="8.06" height="14.25" fill="#d54a41"/><rect x="598.53" y="116.49" width="8.06" height="14.25" fill="#f06f20"/><rect x="605.58" y="116.49" width="8.06" height="14.25" fill="#fc9f07"/><rect x="612.64" y="116.49" width="7.06" height="14.25" fill="#fcffa4"/><rect x="400.9" y="129.74" width="8.06" height="14.25" fill="#f3e55d"/><rect x="407.96" y="129.74" width="8.06" height="14.25" fill="#ca404a"/><rect x="415.02" y="129.74" width="8.06" height="14.25" fill="#85216b"/><rect x="422.07" y="129.74" width="8.06" height="14.25" fill="#932667"/><rect x="429.13" y="129.74" width="8.06" height="14.25" fill="#b0315b"/><rect x="436.19" y="129.74" width="8.06" height="14.25" fill="#b0315b"/><rect x="443.25" y="129.74" width="8.06" height="14.25" fill="#b0315b"/><rect x="450.31" y="129.74" width="8.06" height="14.25" fill="#a22b62"/><rect x="457.36" y="129.74" width="8.06" height="14.25" fill="#932667"/><rect x="464.42" y="129.74" width="8.06" height="14.25" fill="#932667"/><rect x="471.48" y="129.74" width="8.06" height="14.25" fill="#a22b62"/><rect x="478.54" y="129.74" width="8.06" height="14.25" fill="#b0315b"/><rect x="485.6" y="129.74" width="8.06" height="14.25" fill="#b0315b"/><rect x="492.65" y="129.74" width="8.06" height="14.25" fill="#b0315b"/><rect x="499.71" y="129.74" width="8.06" height="14.25" fill="#b0315b"/><rect x="506.77" y="129.74" width="8.06" height="14.25" fill="#b0315b"/><rect x="513.83" y="129.74" width="8.06" height="14.25" fill="#b0315b"/><rect x="520.89" y="129.74" width="8.06" height="14.25" fill="#a22b62"/><rect x="527.95" y="129.74" width="8.06" height="14.25" fill="#a22b62"/><rect x="535" y="129.74" width="8.06" height="14.25" fill="#a22b62"/><rect x="542.06" y="129.74" width="8.06" height="14.25" fill="#a22b62"/><rect x="549.12" y="129.74" width="8.06" height="14.25" fill="#b0315b"/><rect x="556.18" y="129.74" width="8.06" height="14.25" fill="#b0315b"/><rect x="563.24" y="129.74" width="8.06" height="14.25" fill="#b0315b"/><rect x="570.29" y="129.74" width="8.06" height="14.25" fill="#b0315b"/><rect x="577.35" y="129.74" width="8.06" height="14.25" fill="#bd3853"/><rect x="584.41" y="129.74" width="8.06" height="14.25" fill="#bd3853"/><rect x="591.47" y="129.74" width="8.06" height="14.25" fill="#ca404a"/><rect x="598.53" y="129.74" width="8.06" height="14.25" fill="#e9612b"/><rect x="605.58" y="129.74" width="8.06" height="14.25" fill="#fac228"/><rect x="612.64" y="129.74" width="7.06" height="14.25" fill="#fcffa4"/><rect x="400.9" y="142.99" width="8.06" height="14.25" fill="#f3e55d"/><rect x="407.96" y="142.99" width="8.06" height="14.25" fill="#e9612b"/><rect x="415.02" y="142.99" width="8.06" height="14.25" fill="#ca404a"/><rect x="422.07" y="142.99" width="8.06" height="14.25" fill="#ca404a"/><rect x="429.13" y="142.99" width="8.06" height="14.25" fill="#d54a41"/><rect x="436.19" y="142.99" width="8.06" height="14.25" fill="#d54a41"/><rect x="443.25" y="142.99" width="8.06" height="14.25" fill="#d54a41"/><rect x="450.31" y="142.99" width="8.06" height="14.25" fill="#d54a41"/><rect x="457.36" y="142.99" width="8.06" height="14.25" fill="#ca404a"/><rect x="464.42" y="142.99" width="8.06" height="14.25" fill="#ca404a"/><rect x="471.48" y="142.99" width="8.06" height="14.25" fill="#ca404a"/><rect x="478.54" y="142.99" width="8.06" height="14.25" fill="#ca404a"/><rect x="485.6" y="142.99" width="8.06" height="14.25" fill="#ca404a"/><rect x="492.65" y="142.99" width="8.06" height="14.25" fill="#ca404a"/><rect x="499.71" y="142.99" width="8.06" height="14.25" fill="#d54a41"/><rect x="506.77" y="142.99" width="8.06" height="14.25" fill="#d54a41"/><rect x="513.83" y="142.99" width="8.06" height="14.25" fill="#ca404a"/><rect x="520.89" y="142.99" width="8.06" height="14.25" fill="#d54a41"/><rect x="527.95" y="142.99" width="8.06" height="14.25" fill="#ca404a"/><rect x="535" y="142.99" width="8.06" height="14.25" fill="#d54a41"/><rect x="542.06" y="142.99" width="8.06" height="14.25" fill="#ca404a"/><rect x="549.12" y="142.99" width="8.06" height="14.25" fill="#ca404a"/><rect x="556.18" y="142.99" width="8.06" height="14.25" fill="#d54a41"/><rect x="563.24" y="142.99" width="8.06" height="14.25" fill="#d54a41"/><rect x="570.29" y="142.99" width="8.06" height="14.25" fill="#e05536"/><rect x="577.35" y="142.99" width="8.06" height="14.25" fill="#e9612b"/><rect x="584.41" y="142.99" width="8.06" height="14.25" fill="#f06f20"/><rect x="591.47" y="142.99" width="8.06" height="14.25" fill="#f67e14"/><rect x="598.53" y="142.99" width="8.06" height="14.25" fill="#f67e14"/><rect x="605.58" y="142.99" width="8.06" height="14.25" fill="#fc9f07"/><rect x="612.64" y="142.99" width="7.06" height="14.25" fill="#fcffa4"/><rect x="400.9" y="156.24" width="8.06" height="14.25" fill="#f3e55d"/><rect x="407.96" y="156.24" width="8.06" height="14.25" fill="#f98e09"/><rect x="415.02" y="156.24" width="8.06" height="14.25" fill="#e05536"/><rect x="422.07" y="156.24" width="8.06" height="14.25" fill="#e05536"/><rect x="429.13" y="156.24" width="8.06" height="14.25" fill="#e9612b"/><rect x="436.19" y="156.24" width="8.06" height="14.25" fill="#e9612b"/><rect x="443.25" y="156.24" width="8.06" height="14.25" fill="#e9612b"/><rect x="450.31" y="156.24" width="8.06" height="14.25" fill="#e9612b"/><rect x="457.36" y="156.24" width="8.06" height="14.25" fill="#e9612b"/><rect x="464.42" y="156.24" width="8.06" height="14.25" fill="#e05536"/><rect x="471.48" y="156.24" width="8.06" height="14.25" fill="#e05536"/><rect x="478.54" y="156.24" width="8.06" height="14.25" fill="#e05536"/><rect x="485.6" y="156.24" width="8.06" height="14.25" fill="#e9612b"/><rect x="492.65" y="156.24" width="8.06" height="14.25" fill="#e9612b"/><rect x="499.71" y="156.24" width="8.06" height="14.25" fill="#e9612b"/><rect x="506.77" y="156.24" width="8.06" height="14.25" fill="#e9612b"/><rect x="513.83" y="156.24" width="8.06" height="14.25" fill="#e9612b"/><rect x="520.89" y="156.24" width="8.06" height="14.25" fill="#e9612b"/><rect x="527.95" y="156.24" width="8.06" height="14.25" fill="#e9612b"/><rect x="535" y="156.24" width="8.06" height="14.25" fill="#e9612b"/><rect x="542.06" y="156.24" width="8.06" height="14.25" fill="#e9612b"/><rect x="549.12" y="156.24" width="8.06" height="14.25" fill="#f06f20"/><rect x="556.18" y="156.24" width="8.06" height="14.25" fill="#f06f20"/><rect x="563.24" y="156.24" width="8.06" height="14.25" fill="#f06f20"/><rect x="570.29" y="156.24" width="8.06" height="14.25" fill="#f67e14"/><rect x="577.35" y="156.24" width="8.06" height="14.25" fill="#fc9f07"/><rect x="584.41" y="156.24" width="8.06" height="14.25" fill="#fc9f07"/><rect x="591.47" y="156.24" width="8.06" height="14.25" fill="#f98e09"/><rect x="598.53" y="156.24" width="8.06" height="14.25" fill="#fc9f07"/><rect x="605.58" y="156.24" width="8.06" height="14.25" fill="#fac228"/><rect x="612.64" y="156.24" width="7.06" height="14.25" fill="#fcffa4"/><rect x="400.9" y="169.5" width="8.06" height="14.25" fill="#fcffa4"/><rect x="407.96" y="169.5" width="8.06" height="14.25" fill="#f98e09"/><rect x="415.02" y="169.5" width="8.06" height="14.25" fill="#f67e14"/><rect x="422.07" y="169.5" width="8.06" height="14.25" fill="#f67e14"/><rect x="429.13" y="169.5" width="8.06" height="14.25" fill="#f67e14"/><rect x="436.19" y="169.5" width="8.06" height="14.25" fill="#fc9f07"/><rect x="443.25" y="169.5" width="8.06" height="14.25" fill="#fc9f07"/><rect x="450.31" y="169.5" width="8.06" height="14.25" fill="#fc9f07"/><rect x="457.36" y="169.5" width="8.06" height="14.25" fill="#f98e09"/><rect x="464.42" y="169.5" width="8.06" height="14.25" fill="#f98e09"/><rect x="471.48" y="169.5" width="8.06" height="14.25" fill="#f98e09"/><rect x="478.54" y="169.5" width="8.06" height="14.25" fill="#f06f20"/><rect x="485.6" y="169.5" width="8.06" height="14.25" fill="#f06f20"/><rect x="492.65" y="169.5" width="8.06" height="14.25" fill="#e9612b"/><rect x="499.71" y="169.5" width="8.06" height="14.25" fill="#f06f20"/><rect x="506.77" y="169.5" width="8.06" height="14.25" fill="#f06f20"/><rect x="513.83" y="169.5" width="8.06" height="14.25" fill="#e9612b"/><rect x="520.89" y="169.5" width="8.06" height="14.25" fill="#e05536"/><rect x="527.95" y="169.5" width="8.06" height="14.25" fill="#e9612b"/><rect x="535" y="169.5" width="8.06" height="14.25" fill="#f06f20"/><rect x="542.06" y="169.5" width="8.06" height="14.25" fill="#f06f20"/><rect x="549.12" y="169.5" width="8.06" height="14.25" fill="#f67e14"/><rect x="556.18" y="169.5" width="8.06" height="14.25" fill="#f98e09"/><rect x="563.24" y="169.5" width="8.06" height="14.25" fill="#f98e09"/><rect x="570.29" y="169.5" width="8.06" height="14.25" fill="#fc9f07"/><rect x="577.35" y="169.5" width="8.06" height="14.25" fill="#fac228"/><rect x="584.41" y="169.5" width="8.06" height="14.25" fill="#fcffa4"/><rect x="591.47" y="169.5" width="8.06" height="14.25" fill="#fcffa4"/><rect x="598.53" y="169.5" width="8.06" height="14.25" fill="#fcb014"/><rect x="605.58" y="169.5" width="8.06" height="14.25" fill="#f3e55d"/><rect x="612.64" y="169.5" width="7.06" height="14.25" fill="#fcffa4"/><rect x="400.9" y="182.75" width="8.06" height="13.25" fill="#fcffa4"/><rect x="407.96" y="182.75" width="8.06" height="13.25" fill="#fcb014"/><rect x="415.02" y="182.75" width="8.06" height="13.25" fill="#fcb014"/><rect x="422.07" y="182.75" width="8.06" height="13.25" fill="#fcb014"/><rect x="429.13" y="182.75" width="8.06" height="13.25" fill="#fc9f07"/><rect x="436.19" y="182.75" width="8.06" height="13.25" fill="#fcffa4"/><rect x="443.25" y="182.75" width="8.06" height="13.25" fill="#f7d340"/><rect x="450.31" y="182.75" width="8.06" height="13.25" fill="#f7d340"/><rect x="457.36" y="182.75" width="8.06" height="13.25" fill="#f7d340"/><rect x="464.42" y="182.75" width="8.06" height="13.25" fill="#fac228"/><rect x="471.48" y="182.75" width="8.06" height="13.25" fill="#fac228"/><rect x="478.54" y="182.75" width="8.06" height="13.25" fill="#fcb014"/><rect x="485.6" y="182.75" width="8.06" height="13.25" fill="#fcb014"/><rect x="492.65" y="182.75" width="8.06" height="13.25" fill="#fc9f07"/><rect x="499.71" y="182.75" width="8.06" height="13.25" fill="#f98e09"/><rect x="506.77" y="182.75" width="8.06" height="13.25" fill="#f98e09"/><rect x="513.83" y="182.75" width="8.06" height="13.25" fill="#f98e09"/><rect x="520.89" y="182.75" width="8.06" height="13.25" fill="#f98e09"/><rect x="527.95" y="182.75" width="8.06" height="13.25" fill="#f98e09"/><rect x="535" y="182.75" width="8.06" height="13.25" fill="#f98e09"/><rect x="542.06" y="182.75" width="8.06" height="13.25" fill="#fc9f07"/><rect x="549.12" y="182.75" width="8.06" height="13.25" fill="#fcb014"/><rect x="556.18" y="182.75" width="8.06" height="13.25" fill="#fcb014"/><rect x="563.24" y="182.75" width="8.06" height="13.25" fill="#fc9f07"/><rect x="570.29" y="182.75" width="8.06" height="13.25" fill="#fcb014"/><rect x="577.35" y="182.75" width="8.06" height="13.25" fill="#f3e55d"/><rect x="584.41" y="182.75" width="8.06" height="13.25" fill="#fcffa4"/><rect x="591.47" y="182.75" width="8.06" height="13.25" fill="#fcffa4"/><rect x="598.53" y="182.75" width="8.06" height="13.25" fill="#fcffa4"/><rect x="605.58" y="182.75" width="8.06" height="13.25" fill="#fcffa4"/><rect x="612.64" y="182.75" width="7.06" height="13.25" fill="#fcffa4"/></g>
<path d="M380.2 3.8V202.4H656.4" stroke="#555" stroke-width="1" fill="none"/>
<path d="M380.2 202.4v-2.6M450.97 202.4v-2.6M521.74 202.4v-2.6M592.51 202.4v-2.6M380.2 189.4h2.6M380.2 149.64h2.6M380.2 109.88h2.6M380.2 70.11h2.6M380.2 30.35h2.6" stroke="#555" stroke-width="1" fill="none"/>
<g font-size="7.6"><text x="380.2" y="212" text-anchor="middle">0</text><text x="450.97" y="212" text-anchor="middle">10</text><text x="521.74" y="212" text-anchor="middle">20</text><text x="592.51" y="212" text-anchor="middle">30</text><text x="375.6" y="192.1" text-anchor="end">0</text><text x="375.6" y="152.34" text-anchor="end">3</text><text x="375.6" y="112.58" text-anchor="end">6</text><text x="375.6" y="72.81" text-anchor="end">9</text><text x="375.6" y="33.05" text-anchor="end">12</text></g>
<text x="518.5" y="223.6" text-anchor="middle" font-size="10.85" style="stroke:none;fill:#303030">end-to-end distance [Å]</text>
<text transform="translate(361 103.2) rotate(-90)" text-anchor="middle" font-size="10.65" style="stroke:none;fill:#303030">number of hbonds</text>
<rect x="663" y="3.8" width="10.4" height="198" fill="url(#cbg)"/>
<path d="M673.4 3.3V201.8" stroke="#4a4a4a" stroke-width="1" fill="none"/>
<path d="M673.4 3.8h3.4M673.4 38.73h3.4M673.4 73.67h3.4M673.4 108.6h3.4M673.4 143.53h3.4M673.4 178.46h3.4" stroke="#4a4a4a" stroke-width="1" fill="none"/>
<g font-size="7.6"><text x="679" y="6.2">0</text><text x="679" y="41.13">−2.5</text><text x="679" y="76.07">−5.0</text><text x="679" y="111">−7.5</text><text x="679" y="145.93">−10.0</text><text x="679" y="180.86">−12.5</text></g>
<path d="M46.1 236.2V434.8M83.35 236.2V434.8M120.6 236.2V434.8M157.85 236.2V434.8M195.1 236.2V434.8M232.35 236.2V434.8M269.6 236.2V434.8M27.5 421.8H303.3M27.5 382.04H303.3M27.5 342.28H303.3M27.5 302.51H303.3M27.5 262.75H303.3" stroke="#efefef" stroke-width="0.7" fill="none"/>
<g><rect x="31" y="242.87" width="8.44" height="14.25" fill="#fcffa4"/><rect x="38.44" y="242.87" width="8.44" height="14.25" fill="#fcffa4"/><rect x="45.89" y="242.87" width="8.44" height="14.25" fill="#fcffa4"/><rect x="53.33" y="242.87" width="8.44" height="14.25" fill="#fcffa4"/><rect x="60.78" y="242.87" width="8.44" height="14.25" fill="#fcffa4"/><rect x="68.22" y="242.87" width="8.44" height="14.25" fill="#fcffa4"/><rect x="75.67" y="242.87" width="8.44" height="14.25" fill="#fcffa4"/><rect x="83.11" y="242.87" width="8.44" height="14.25" fill="#fcffa4"/><rect x="90.56" y="242.87" width="8.44" height="14.25" fill="#fcffa4"/><rect x="98" y="242.87" width="8.44" height="14.25" fill="#fcffa4"/><rect x="105.44" y="242.87" width="8.44" height="14.25" fill="#fcffa4"/><rect x="112.89" y="242.87" width="8.44" height="14.25" fill="#fcffa4"/><rect x="120.33" y="242.87" width="8.44" height="14.25" fill="#fcffa4"/><rect x="127.78" y="242.87" width="8.44" height="14.25" fill="#fcffa4"/><rect x="135.22" y="242.87" width="8.44" height="14.25" fill="#fcffa4"/><rect x="142.67" y="242.87" width="8.44" height="14.25" fill="#fcffa4"/><rect x="150.11" y="242.87" width="8.44" height="14.25" fill="#ca404a"/><rect x="157.56" y="242.87" width="8.44" height="14.25" fill="#3d0965"/><rect x="165" y="242.87" width="8.44" height="14.25" fill="#3d0965"/><rect x="172.44" y="242.87" width="8.44" height="14.25" fill="#b0315b"/><rect x="179.89" y="242.87" width="8.44" height="14.25" fill="#f3e55d"/><rect x="187.33" y="242.87" width="8.44" height="14.25" fill="#fcffa4"/><rect x="194.78" y="242.87" width="8.44" height="14.25" fill="#fcffa4"/><rect x="202.22" y="242.87" width="8.44" height="14.25" fill="#fcffa4"/><rect x="209.67" y="242.87" width="8.44" height="14.25" fill="#fcffa4"/><rect x="217.11" y="242.87" width="8.44" height="14.25" fill="#fcffa4"/><rect x="224.56" y="242.87" width="8.44" height="14.25" fill="#fcffa4"/><rect x="232" y="242.87" width="8.44" height="14.25" fill="#fcffa4"/><rect x="239.44" y="242.87" width="8.44" height="14.25" fill="#fcffa4"/><rect x="246.89" y="242.87" width="8.44" height="14.25" fill="#fcffa4"/><rect x="254.33" y="242.87" width="8.44" height="14.25" fill="#fcffa4"/><rect x="261.78" y="242.87" width="8.44" height="14.25" fill="#fcffa4"/><rect x="269.22" y="242.87" width="8.44" height="14.25" fill="#fcffa4"/><rect x="276.67" y="242.87" width="8.44" height="14.25" fill="#fcffa4"/><rect x="284.11" y="242.87" width="8.44" height="14.25" fill="#fcffa4"/><rect x="291.56" y="242.87" width="7.44" height="14.25" fill="#fcffa4"/><rect x="31" y="256.12" width="8.44" height="14.25" fill="#fcffa4"/><rect x="38.44" y="256.12" width="8.44" height="14.25" fill="#fcffa4"/><rect x="45.89" y="256.12" width="8.44" height="14.25" fill="#fcffa4"/><rect x="53.33" y="256.12" width="8.44" height="14.25" fill="#fcffa4"/><rect x="60.78" y="256.12" width="8.44" height="14.25" fill="#fcffa4"/><rect x="68.22" y="256.12" width="8.44" height="14.25" fill="#fcffa4"/><rect x="75.67" y="256.12" width="8.44" height="14.25" fill="#fcffa4"/><rect x="83.11" y="256.12" width="8.44" height="14.25" fill="#fcffa4"/><rect x="90.56" y="256.12" width="8.44" height="14.25" fill="#fcffa4"/><rect x="98" y="256.12" width="8.44" height="14.25" fill="#fcffa4"/><rect x="105.44" y="256.12" width="8.44" height="14.25" fill="#fcffa4"/><rect x="112.89" y="256.12" width="8.44" height="14.25" fill="#fcffa4"/><rect x="120.33" y="256.12" width="8.44" height="14.25" fill="#fcffa4"/><rect x="127.78" y="256.12" width="8.44" height="14.25" fill="#f3e55d"/><rect x="135.22" y="256.12" width="8.44" height="14.25" fill="#fac228"/><rect x="142.67" y="256.12" width="8.44" height="14.25" fill="#e9612b"/><rect x="150.11" y="256.12" width="8.44" height="14.25" fill="#bd3853"/><rect x="157.56" y="256.12" width="8.44" height="14.25" fill="#4c0c6b"/><rect x="165" y="256.12" width="8.44" height="14.25" fill="#4c0c6b"/><rect x="172.44" y="256.12" width="8.44" height="14.25" fill="#85216b"/><rect x="179.89" y="256.12" width="8.44" height="14.25" fill="#f98e09"/><rect x="187.33" y="256.12" width="8.44" height="14.25" fill="#fcffa4"/><rect x="194.78" y="256.12" width="8.44" height="14.25" fill="#fcffa4"/><rect x="202.22" y="256.12" width="8.44" height="14.25" fill="#fcffa4"/><rect x="209.67" y="256.12" width="8.44" height="14.25" fill="#fcffa4"/><rect x="217.11" y="256.12" width="8.44" height="14.25" fill="#fcffa4"/><rect x="224.56" y="256.12" width="8.44" height="14.25" fill="#fcffa4"/><rect x="232" y="256.12" width="8.44" height="14.25" fill="#fcffa4"/><rect x="239.44" y="256.12" width="8.44" height="14.25" fill="#fcffa4"/><rect x="246.89" y="256.12" width="8.44" height="14.25" fill="#fcffa4"/><rect x="254.33" y="256.12" width="8.44" height="14.25" fill="#fcffa4"/><rect x="261.78" y="256.12" width="8.44" height="14.25" fill="#fcffa4"/><rect x="269.22" y="256.12" width="8.44" height="14.25" fill="#fcffa4"/><rect x="276.67" y="256.12" width="8.44" height="14.25" fill="#fcffa4"/><rect x="284.11" y="256.12" width="8.44" height="14.25" fill="#fcffa4"/><rect x="291.56" y="256.12" width="7.44" height="14.25" fill="#fcffa4"/><rect x="31" y="269.37" width="8.44" height="14.25" fill="#fcffa4"/><rect x="38.44" y="269.37" width="8.44" height="14.25" fill="#fcffa4"/><rect x="45.89" y="269.37" width="8.44" height="14.25" fill="#fcffa4"/><rect x="53.33" y="269.37" width="8.44" height="14.25" fill="#fcffa4"/><rect x="60.78" y="269.37" width="8.44" height="14.25" fill="#fcffa4"/><rect x="68.22" y="269.37" width="8.44" height="14.25" fill="#fcffa4"/><rect x="75.67" y="269.37" width="8.44" height="14.25" fill="#fcffa4"/><rect x="83.11" y="269.37" width="8.44" height="14.25" fill="#fcffa4"/><rect x="90.56" y="269.37" width="8.44" height="14.25" fill="#f3e55d"/><rect x="98" y="269.37" width="8.44" height="14.25" fill="#fcffa4"/><rect x="105.44" y="269.37" width="8.44" height="14.25" fill="#fac228"/><rect x="112.89" y="269.37" width="8.44" height="14.25" fill="#fc9f07"/><rect x="120.33" y="269.37" width="8.44" height="14.25" fill="#fc9f07"/><rect x="127.78" y="269.37" width="8.44" height="14.25" fill="#f06f20"/><rect x="135.22" y="269.37" width="8.44" height="14.25" fill="#ca404a"/><rect x="142.67" y="269.37" width="8.44" height="14.25" fill="#85216b"/><rect x="150.11" y="269.37" width="8.44" height="14.25" fill="#69166e"/><rect x="157.56" y="269.37" width="8.44" height="14.25" fill="#5a116e"/><rect x="165" y="269.37" width="8.44" height="14.25" fill="#4c0c6b"/><rect x="172.44" y="269.37" width="8.44" height="14.25" fill="#69166e"/><rect x="179.89" y="269.37" width="8.44" height="14.25" fill="#771c6d"/><rect x="187.33" y="269.37" width="8.44" height="14.25" fill="#932667"/><rect x="194.78" y="269.37" width="8.44" height="14.25" fill="#fcffa4"/><rect x="202.22" y="269.37" width="8.44" height="14.25" fill="#fcffa4"/><rect x="209.67" y="269.37" width="8.44" height="14.25" fill="#fcffa4"/><rect x="217.11" y="269.37" width="8.44" height="14.25" fill="#fcffa4"/><rect x="224.56" y="269.37" width="8.44" height="14.25" fill="#fcffa4"/><rect x="232" y="269.37" width="8.44" height="14.25" fill="#fcffa4"/><rect x="239.44" y="269.37" width="8.44" height="14.25" fill="#fcffa4"/><rect x="246.89" y="269.37" width="8.44" height="14.25" fill="#fcffa4"/><rect x="254.33" y="269.37" width="8.44" height="14.25" fill="#fcffa4"/><rect x="261.78" y="269.37" width="8.44" height="14.25" fill="#fcffa4"/><rect x="269.22" y="269.37" width="8.44" height="14.25" fill="#fcffa4"/><rect x="276.67" y="269.37" width="8.44" height="14.25" fill="#fcffa4"/><rect x="284.11" y="269.37" width="8.44" height="14.25" fill="#fcffa4"/><rect x="291.56" y="269.37" width="7.44" height="14.25" fill="#fcffa4"/><rect x="31" y="282.63" width="8.44" height="14.25" fill="#fcffa4"/><rect x="38.44" y="282.63" width="8.44" height="14.25" fill="#fcffa4"/><rect x="45.89" y="282.63" width="8.44" height="14.25" fill="#fcffa4"/><rect x="53.33" y="282.63" width="8.44" height="14.25" fill="#fcffa4"/><rect x="60.78" y="282.63" width="8.44" height="14.25" fill="#fcffa4"/><rect x="68.22" y="282.63" width="8.44" height="14.25" fill="#fcffa4"/><rect x="75.67" y="282.63" width="8.44" height="14.25" fill="#fcffa4"/><rect x="83.11" y="282.63" width="8.44" height="14.25" fill="#fcb014"/><rect x="90.56" y="282.63" width="8.44" height="14.25" fill="#fcb014"/><rect x="98" y="282.63" width="8.44" height="14.25" fill="#f98e09"/><rect x="105.44" y="282.63" width="8.44" height="14.25" fill="#e9612b"/><rect x="112.89" y="282.63" width="8.44" height="14.25" fill="#bd3853"/><rect x="120.33" y="282.63" width="8.44" height="14.25" fill="#932667"/><rect x="127.78" y="282.63" width="8.44" height="14.25" fill="#932667"/><rect x="135.22" y="282.63" width="8.44" height="14.25" fill="#932667"/><rect x="142.67" y="282.63" width="8.44" height="14.25" fill="#771c6d"/><rect x="150.11" y="282.63" width="8.44" height="14.25" fill="#69166e"/><rect x="157.56" y="282.63" width="8.44" height="14.25" fill="#69166e"/><rect x="165" y="282.63" width="8.44" height="14.25" fill="#69166e"/><rect x="172.44" y="282.63" width="8.44" height="14.25" fill="#69166e"/><rect x="179.89" y="282.63" width="8.44" height="14.25" fill="#69166e"/><rect x="187.33" y="282.63" width="8.44" height="14.25" fill="#771c6d"/><rect x="194.78" y="282.63" width="8.44" height="14.25" fill="#85216b"/><rect x="202.22" y="282.63" width="8.44" height="14.25" fill="#e9612b"/><rect x="209.67" y="282.63" width="8.44" height="14.25" fill="#fcffa4"/><rect x="217.11" y="282.63" width="8.44" height="14.25" fill="#fcffa4"/><rect x="224.56" y="282.63" width="8.44" height="14.25" fill="#fcffa4"/><rect x="232" y="282.63" width="8.44" height="14.25" fill="#fcffa4"/><rect x="239.44" y="282.63" width="8.44" height="14.25" fill="#fcffa4"/><rect x="246.89" y="282.63" width="8.44" height="14.25" fill="#fcffa4"/><rect x="254.33" y="282.63" width="8.44" height="14.25" fill="#fcffa4"/><rect x="261.78" y="282.63" width="8.44" height="14.25" fill="#fcffa4"/><rect x="269.22" y="282.63" width="8.44" height="14.25" fill="#fcffa4"/><rect x="276.67" y="282.63" width="8.44" height="14.25" fill="#fcffa4"/><rect x="284.11" y="282.63" width="8.44" height="14.25" fill="#fcffa4"/><rect x="291.56" y="282.63" width="7.44" height="14.25" fill="#fcffa4"/><rect x="31" y="295.88" width="8.44" height="14.25" fill="#fcffa4"/><rect x="38.44" y="295.88" width="8.44" height="14.25" fill="#fcffa4"/><rect x="45.89" y="295.88" width="8.44" height="14.25" fill="#fc9f07"/><rect x="53.33" y="295.88" width="8.44" height="14.25" fill="#f98e09"/><rect x="60.78" y="295.88" width="8.44" height="14.25" fill="#e9612b"/><rect x="68.22" y="295.88" width="8.44" height="14.25" fill="#d54a41"/><rect x="75.67" y="295.88" width="8.44" height="14.25" fill="#bd3853"/><rect x="83.11" y="295.88" width="8.44" height="14.25" fill="#b0315b"/><rect x="90.56" y="295.88" width="8.44" height="14.25" fill="#932667"/><rect x="98" y="295.88" width="8.44" height="14.25" fill="#932667"/><rect x="105.44" y="295.88" width="8.44" height="14.25" fill="#85216b"/><rect x="112.89" y="295.88" width="8.44" height="14.25" fill="#85216b"/><rect x="120.33" y="295.88" width="8.44" height="14.25" fill="#771c6d"/><rect x="127.78" y="295.88" width="8.44" height="14.25" fill="#85216b"/><rect x="135.22" y="295.88" width="8.44" height="14.25" fill="#85216b"/><rect x="142.67" y="295.88" width="8.44" height="14.25" fill="#69166e"/><rect x="150.11" y="295.88" width="8.44" height="14.25" fill="#5a116e"/><rect x="157.56" y="295.88" width="8.44" height="14.25" fill="#5a116e"/><rect x="165" y="295.88" width="8.44" height="14.25" fill="#5a116e"/><rect x="172.44" y="295.88" width="8.44" height="14.25" fill="#5a116e"/><rect x="179.89" y="295.88" width="8.44" height="14.25" fill="#69166e"/><rect x="187.33" y="295.88" width="8.44" height="14.25" fill="#771c6d"/><rect x="194.78" y="295.88" width="8.44" height="14.25" fill="#85216b"/><rect x="202.22" y="295.88" width="8.44" height="14.25" fill="#a22b62"/><rect x="209.67" y="295.88" width="8.44" height="14.25" fill="#e9612b"/><rect x="217.11" y="295.88" width="8.44" height="14.25" fill="#f3e55d"/><rect x="224.56" y="295.88" width="8.44" height="14.25" fill="#fcffa4"/><rect x="232" y="295.88" width="8.44" height="14.25" fill="#fcffa4"/><rect x="239.44" y="295.88" width="8.44" height="14.25" fill="#fcffa4"/><rect x="246.89" y="295.88" width="8.44" height="14.25" fill="#fcffa4"/><rect x="254.33" y="295.88" width="8.44" height="14.25" fill="#fcffa4"/><rect x="261.78" y="295.88" width="8.44" height="14.25" fill="#fcffa4"/><rect x="269.22" y="295.88" width="8.44" height="14.25" fill="#fcffa4"/><rect x="276.67" y="295.88" width="8.44" height="14.25" fill="#fcffa4"/><rect x="284.11" y="295.88" width="8.44" height="14.25" fill="#fcffa4"/><rect x="291.56" y="295.88" width="7.44" height="14.25" fill="#fcffa4"/><rect x="31" y="309.13" width="8.44" height="14.25" fill="#fcffa4"/><rect x="38.44" y="309.13" width="8.44" height="14.25" fill="#f3e55d"/><rect x="45.89" y="309.13" width="8.44" height="14.25" fill="#f67e14"/><rect x="53.33" y="309.13" width="8.44" height="14.25" fill="#e9612b"/><rect x="60.78" y="309.13" width="8.44" height="14.25" fill="#d54a41"/><rect x="68.22" y="309.13" width="8.44" height="14.25" fill="#b0315b"/><rect x="75.67" y="309.13" width="8.44" height="14.25" fill="#932667"/><rect x="83.11" y="309.13" width="8.44" height="14.25" fill="#932667"/><rect x="90.56" y="309.13" width="8.44" height="14.25" fill="#85216b"/><rect x="98" y="309.13" width="8.44" height="14.25" fill="#85216b"/><rect x="105.44" y="309.13" width="8.44" height="14.25" fill="#85216b"/><rect x="112.89" y="309.13" width="8.44" height="14.25" fill="#85216b"/><rect x="120.33" y="309.13" width="8.44" height="14.25" fill="#85216b"/><rect x="127.78" y="309.13" width="8.44" height="14.25" fill="#85216b"/><rect x="135.22" y="309.13" width="8.44" height="14.25" fill="#85216b"/><rect x="142.67" y="309.13" width="8.44" height="14.25" fill="#69166e"/><rect x="150.11" y="309.13" width="8.44" height="14.25" fill="#69166e"/><rect x="157.56" y="309.13" width="8.44" height="14.25" fill="#5a116e"/><rect x="165" y="309.13" width="8.44" height="14.25" fill="#5a116e"/><rect x="172.44" y="309.13" width="8.44" height="14.25" fill="#69166e"/><rect x="179.89" y="309.13" width="8.44" height="14.25" fill="#69166e"/><rect x="187.33" y="309.13" width="8.44" height="14.25" fill="#771c6d"/><rect x="194.78" y="309.13" width="8.44" height="14.25" fill="#85216b"/><rect x="202.22" y="309.13" width="8.44" height="14.25" fill="#932667"/><rect x="209.67" y="309.13" width="8.44" height="14.25" fill="#932667"/><rect x="217.11" y="309.13" width="8.44" height="14.25" fill="#d54a41"/><rect x="224.56" y="309.13" width="8.44" height="14.25" fill="#f98e09"/><rect x="232" y="309.13" width="8.44" height="14.25" fill="#fcffa4"/><rect x="239.44" y="309.13" width="8.44" height="14.25" fill="#fcffa4"/><rect x="246.89" y="309.13" width="8.44" height="14.25" fill="#fcffa4"/><rect x="254.33" y="309.13" width="8.44" height="14.25" fill="#fcffa4"/><rect x="261.78" y="309.13" width="8.44" height="14.25" fill="#fcffa4"/><rect x="269.22" y="309.13" width="8.44" height="14.25" fill="#fcffa4"/><rect x="276.67" y="309.13" width="8.44" height="14.25" fill="#fcffa4"/><rect x="284.11" y="309.13" width="8.44" height="14.25" fill="#fcffa4"/><rect x="291.56" y="309.13" width="7.44" height="14.25" fill="#fcffa4"/><rect x="31" y="322.38" width="8.44" height="14.25" fill="#fcffa4"/><rect x="38.44" y="322.38" width="8.44" height="14.25" fill="#fcffa4"/><rect x="45.89" y="322.38" width="8.44" height="14.25" fill="#f67e14"/><rect x="53.33" y="322.38" width="8.44" height="14.25" fill="#e05536"/><rect x="60.78" y="322.38" width="8.44" height="14.25" fill="#bd3853"/><rect x="68.22" y="322.38" width="8.44" height="14.25" fill="#932667"/><rect x="75.67" y="322.38" width="8.44" height="14.25" fill="#85216b"/><rect x="83.11" y="322.38" width="8.44" height="14.25" fill="#85216b"/><rect x="90.56" y="322.38" width="8.44" height="14.25" fill="#85216b"/><rect x="98" y="322.38" width="8.44" height="14.25" fill="#85216b"/><rect x="105.44" y="322.38" width="8.44" height="14.25" fill="#85216b"/><rect x="112.89" y="322.38" width="8.44" height="14.25" fill="#85216b"/><rect x="120.33" y="322.38" width="8.44" height="14.25" fill="#85216b"/><rect x="127.78" y="322.38" width="8.44" height="14.25" fill="#85216b"/><rect x="135.22" y="322.38" width="8.44" height="14.25" fill="#85216b"/><rect x="142.67" y="322.38" width="8.44" height="14.25" fill="#771c6d"/><rect x="150.11" y="322.38" width="8.44" height="14.25" fill="#69166e"/><rect x="157.56" y="322.38" width="8.44" height="14.25" fill="#69166e"/><rect x="165" y="322.38" width="8.44" height="14.25" fill="#69166e"/><rect x="172.44" y="322.38" width="8.44" height="14.25" fill="#69166e"/><rect x="179.89" y="322.38" width="8.44" height="14.25" fill="#771c6d"/><rect x="187.33" y="322.38" width="8.44" height="14.25" fill="#771c6d"/><rect x="194.78" y="322.38" width="8.44" height="14.25" fill="#85216b"/><rect x="202.22" y="322.38" width="8.44" height="14.25" fill="#932667"/><rect x="209.67" y="322.38" width="8.44" height="14.25" fill="#85216b"/><rect x="217.11" y="322.38" width="8.44" height="14.25" fill="#a22b62"/><rect x="224.56" y="322.38" width="8.44" height="14.25" fill="#ca404a"/><rect x="232" y="322.38" width="8.44" height="14.25" fill="#e05536"/><rect x="239.44" y="322.38" width="8.44" height="14.25" fill="#fc9f07"/><rect x="246.89" y="322.38" width="8.44" height="14.25" fill="#fcffa4"/><rect x="254.33" y="322.38" width="8.44" height="14.25" fill="#fcffa4"/><rect x="261.78" y="322.38" width="8.44" height="14.25" fill="#fcffa4"/><rect x="269.22" y="322.38" width="8.44" height="14.25" fill="#fcffa4"/><rect x="276.67" y="322.38" width="8.44" height="14.25" fill="#fcffa4"/><rect x="284.11" y="322.38" width="8.44" height="14.25" fill="#fcffa4"/><rect x="291.56" y="322.38" width="7.44" height="14.25" fill="#fcffa4"/><rect x="31" y="335.63" width="8.44" height="14.25" fill="#f98e09"/><rect x="38.44" y="335.63" width="8.44" height="14.25" fill="#ca404a"/><rect x="45.89" y="335.63" width="8.44" height="14.25" fill="#b0315b"/><rect x="53.33" y="335.63" width="8.44" height="14.25" fill="#a22b62"/><rect x="60.78" y="335.63" width="8.44" height="14.25" fill="#932667"/><rect x="68.22" y="335.63" width="8.44" height="14.25" fill="#932667"/><rect x="75.67" y="335.63" width="8.44" height="14.25" fill="#932667"/><rect x="83.11" y="335.63" width="8.44" height="14.25" fill="#932667"/><rect x="90.56" y="335.63" width="8.44" height="14.25" fill="#932667"/><rect x="98" y="335.63" width="8.44" height="14.25" fill="#932667"/><rect x="105.44" y="335.63" width="8.44" height="14.25" fill="#932667"/><rect x="112.89" y="335.63" width="8.44" height="14.25" fill="#932667"/><rect x="120.33" y="335.63" width="8.44" height="14.25" fill="#932667"/><rect x="127.78" y="335.63" width="8.44" height="14.25" fill="#932667"/><rect x="135.22" y="335.63" width="8.44" height="14.25" fill="#85216b"/><rect x="142.67" y="335.63" width="8.44" height="14.25" fill="#85216b"/><rect x="150.11" y="335.63" width="8.44" height="14.25" fill="#85216b"/><rect x="157.56" y="335.63" width="8.44" height="14.25" fill="#85216b"/><rect x="165" y="335.63" width="8.44" height="14.25" fill="#85216b"/><rect x="172.44" y="335.63" width="8.44" height="14.25" fill="#85216b"/><rect x="179.89" y="335.63" width="8.44" height="14.25" fill="#85216b"/><rect x="187.33" y="335.63" width="8.44" height="14.25" fill="#85216b"/><rect x="194.78" y="335.63" width="8.44" height="14.25" fill="#85216b"/><rect x="202.22" y="335.63" width="8.44" height="14.25" fill="#932667"/><rect x="209.67" y="335.63" width="8.44" height="14.25" fill="#932667"/><rect x="217.11" y="335.63" width="8.44" height="14.25" fill="#a22b62"/><rect x="224.56" y="335.63" width="8.44" height="14.25" fill="#bd3853"/><rect x="232" y="335.63" width="8.44" height="14.25" fill="#d54a41"/><rect x="239.44" y="335.63" width="8.44" height="14.25" fill="#f67e14"/><rect x="246.89" y="335.63" width="8.44" height="14.25" fill="#f3e55d"/><rect x="254.33" y="335.63" width="8.44" height="14.25" fill="#fcffa4"/><rect x="261.78" y="335.63" width="8.44" height="14.25" fill="#fcffa4"/><rect x="269.22" y="335.63" width="8.44" height="14.25" fill="#fcffa4"/><rect x="276.67" y="335.63" width="8.44" height="14.25" fill="#fcffa4"/><rect x="284.11" y="335.63" width="8.44" height="14.25" fill="#fcffa4"/><rect x="291.56" y="335.63" width="7.44" height="14.25" fill="#fcffa4"/><rect x="31" y="348.89" width="8.44" height="14.25" fill="#f06f20"/><rect x="38.44" y="348.89" width="8.44" height="14.25" fill="#ca404a"/><rect x="45.89" y="348.89" width="8.44" height="14.25" fill="#a22b62"/><rect x="53.33" y="348.89" width="8.44" height="14.25" fill="#a22b62"/><rect x="60.78" y="348.89" width="8.44" height="14.25" fill="#932667"/><rect x="68.22" y="348.89" width="8.44" height="14.25" fill="#932667"/><rect x="75.67" y="348.89" width="8.44" height="14.25" fill="#932667"/><rect x="83.11" y="348.89" width="8.44" height="14.25" fill="#932667"/><rect x="90.56" y="348.89" width="8.44" height="14.25" fill="#932667"/><rect x="98" y="348.89" width="8.44" height="14.25" fill="#932667"/><rect x="105.44" y="348.89" width="8.44" height="14.25" fill="#932667"/><rect x="112.89" y="348.89" width="8.44" height="14.25" fill="#932667"/><rect x="120.33" y="348.89" width="8.44" height="14.25" fill="#932667"/><rect x="127.78" y="348.89" width="8.44" height="14.25" fill="#932667"/><rect x="135.22" y="348.89" width="8.44" height="14.25" fill="#932667"/><rect x="142.67" y="348.89" width="8.44" height="14.25" fill="#85216b"/><rect x="150.11" y="348.89" width="8.44" height="14.25" fill="#85216b"/><rect x="157.56" y="348.89" width="8.44" height="14.25" fill="#85216b"/><rect x="165" y="348.89" width="8.44" height="14.25" fill="#85216b"/><rect x="172.44" y="348.89" width="8.44" height="14.25" fill="#85216b"/><rect x="179.89" y="348.89" width="8.44" height="14.25" fill="#85216b"/><rect x="187.33" y="348.89" width="8.44" height="14.25" fill="#85216b"/><rect x="194.78" y="348.89" width="8.44" height="14.25" fill="#932667"/><rect x="202.22" y="348.89" width="8.44" height="14.25" fill="#932667"/><rect x="209.67" y="348.89" width="8.44" height="14.25" fill="#932667"/><rect x="217.11" y="348.89" width="8.44" height="14.25" fill="#a22b62"/><rect x="224.56" y="348.89" width="8.44" height="14.25" fill="#bd3853"/><rect x="232" y="348.89" width="8.44" height="14.25" fill="#d54a41"/><rect x="239.44" y="348.89" width="8.44" height="14.25" fill="#f06f20"/><rect x="246.89" y="348.89" width="8.44" height="14.25" fill="#fc9f07"/><rect x="254.33" y="348.89" width="8.44" height="14.25" fill="#fcffa4"/><rect x="261.78" y="348.89" width="8.44" height="14.25" fill="#fcffa4"/><rect x="269.22" y="348.89" width="8.44" height="14.25" fill="#fcffa4"/><rect x="276.67" y="348.89" width="8.44" height="14.25" fill="#fcffa4"/><rect x="284.11" y="348.89" width="8.44" height="14.25" fill="#fcffa4"/><rect x="291.56" y="348.89" width="7.44" height="14.25" fill="#fcffa4"/><rect x="31" y="362.14" width="8.44" height="14.25" fill="#e9612b"/><rect x="38.44" y="362.14" width="8.44" height="14.25" fill="#ca404a"/><rect x="45.89" y="362.14" width="8.44" height="14.25" fill="#85216b"/><rect x="53.33" y="362.14" width="8.44" height="14.25" fill="#a22b62"/><rect x="60.78" y="362.14" width="8.44" height="14.25" fill="#932667"/><rect x="68.22" y="362.14" width="8.44" height="14.25" fill="#932667"/><rect x="75.67" y="362.14" width="8.44" height="14.25" fill="#932667"/><rect x="83.11" y="362.14" width="8.44" height="14.25" fill="#932667"/><rect x="90.56" y="362.14" width="8.44" height="14.25" fill="#932667"/><rect x="98" y="362.14" width="8.44" height="14.25" fill="#932667"/><rect x="105.44" y="362.14" width="8.44" height="14.25" fill="#932667"/><rect x="112.89" y="362.14" width="8.44" height="14.25" fill="#932667"/><rect x="120.33" y="362.14" width="8.44" height="14.25" fill="#932667"/><rect x="127.78" y="362.14" width="8.44" height="14.25" fill="#932667"/><rect x="135.22" y="362.14" width="8.44" height="14.25" fill="#932667"/><rect x="142.67" y="362.14" width="8.44" height="14.25" fill="#932667"/><rect x="150.11" y="362.14" width="8.44" height="14.25" fill="#932667"/><rect x="157.56" y="362.14" width="8.44" height="14.25" fill="#932667"/><rect x="165" y="362.14" width="8.44" height="14.25" fill="#85216b"/><rect x="172.44" y="362.14" width="8.44" height="14.25" fill="#85216b"/><rect x="179.89" y="362.14" width="8.44" height="14.25" fill="#85216b"/><rect x="187.33" y="362.14" width="8.44" height="14.25" fill="#932667"/><rect x="194.78" y="362.14" width="8.44" height="14.25" fill="#932667"/><rect x="202.22" y="362.14" width="8.44" height="14.25" fill="#932667"/><rect x="209.67" y="362.14" width="8.44" height="14.25" fill="#932667"/><rect x="217.11" y="362.14" width="8.44" height="14.25" fill="#a22b62"/><rect x="224.56" y="362.14" width="8.44" height="14.25" fill="#b0315b"/><rect x="232" y="362.14" width="8.44" height="14.25" fill="#ca404a"/><rect x="239.44" y="362.14" width="8.44" height="14.25" fill="#d54a41"/><rect x="246.89" y="362.14" width="8.44" height="14.25" fill="#e9612b"/><rect x="254.33" y="362.14" width="8.44" height="14.25" fill="#f06f20"/><rect x="261.78" y="362.14" width="8.44" height="14.25" fill="#f7d340"/><rect x="269.22" y="362.14" width="8.44" height="14.25" fill="#fcffa4"/><rect x="276.67" y="362.14" width="8.44" height="14.25" fill="#fcffa4"/><rect x="284.11" y="362.14" width="8.44" height="14.25" fill="#fcffa4"/><rect x="291.56" y="362.14" width="7.44" height="14.25" fill="#fcffa4"/><rect x="31" y="375.39" width="8.44" height="14.25" fill="#fc9f07"/><rect x="38.44" y="375.39" width="8.44" height="14.25" fill="#e05536"/><rect x="45.89" y="375.39" width="8.44" height="14.25" fill="#ca404a"/><rect x="53.33" y="375.39" width="8.44" height="14.25" fill="#bd3853"/><rect x="60.78" y="375.39" width="8.44" height="14.25" fill="#bd3853"/><rect x="68.22" y="375.39" width="8.44" height="14.25" fill="#b0315b"/><rect x="75.67" y="375.39" width="8.44" height="14.25" fill="#b0315b"/><rect x="83.11" y="375.39" width="8.44" height="14.25" fill="#b0315b"/><rect x="90.56" y="375.39" width="8.44" height="14.25" fill="#b0315b"/><rect x="98" y="375.39" width="8.44" height="14.25" fill="#b0315b"/><rect x="105.44" y="375.39" width="8.44" height="14.25" fill="#a22b62"/><rect x="112.89" y="375.39" width="8.44" height="14.25" fill="#a22b62"/><rect x="120.33" y="375.39" width="8.44" height="14.25" fill="#a22b62"/><rect x="127.78" y="375.39" width="8.44" height="14.25" fill="#a22b62"/><rect x="135.22" y="375.39" width="8.44" height="14.25" fill="#a22b62"/><rect x="142.67" y="375.39" width="8.44" height="14.25" fill="#932667"/><rect x="150.11" y="375.39" width="8.44" height="14.25" fill="#932667"/><rect x="157.56" y="375.39" width="8.44" height="14.25" fill="#932667"/><rect x="165" y="375.39" width="8.44" height="14.25" fill="#932667"/><rect x="172.44" y="375.39" width="8.44" height="14.25" fill="#932667"/><rect x="179.89" y="375.39" width="8.44" height="14.25" fill="#932667"/><rect x="187.33" y="375.39" width="8.44" height="14.25" fill="#932667"/><rect x="194.78" y="375.39" width="8.44" height="14.25" fill="#932667"/><rect x="202.22" y="375.39" width="8.44" height="14.25" fill="#a22b62"/><rect x="209.67" y="375.39" width="8.44" height="14.25" fill="#932667"/><rect x="217.11" y="375.39" width="8.44" height="14.25" fill="#a22b62"/><rect x="224.56" y="375.39" width="8.44" height="14.25" fill="#b0315b"/><rect x="232" y="375.39" width="8.44" height="14.25" fill="#bd3853"/><rect x="239.44" y="375.39" width="8.44" height="14.25" fill="#ca404a"/><rect x="246.89" y="375.39" width="8.44" height="14.25" fill="#d54a41"/><rect x="254.33" y="375.39" width="8.44" height="14.25" fill="#e05536"/><rect x="261.78" y="375.39" width="8.44" height="14.25" fill="#f06f20"/><rect x="269.22" y="375.39" width="8.44" height="14.25" fill="#fc9f07"/><rect x="276.67" y="375.39" width="8.44" height="14.25" fill="#f7d340"/><rect x="284.11" y="375.39" width="8.44" height="14.25" fill="#fcffa4"/><rect x="291.56" y="375.39" width="7.44" height="14.25" fill="#fcffa4"/><rect x="31" y="388.64" width="8.44" height="14.25" fill="#fcb014"/><rect x="38.44" y="388.64" width="8.44" height="14.25" fill="#e05536"/><rect x="45.89" y="388.64" width="8.44" height="14.25" fill="#bd3853"/><rect x="53.33" y="388.64" width="8.44" height="14.25" fill="#bd3853"/><rect x="60.78" y="388.64" width="8.44" height="14.25" fill="#bd3853"/><rect x="68.22" y="388.64" width="8.44" height="14.25" fill="#b0315b"/><rect x="75.67" y="388.64" width="8.44" height="14.25" fill="#b0315b"/><rect x="83.11" y="388.64" width="8.44" height="14.25" fill="#a22b62"/><rect x="90.56" y="388.64" width="8.44" height="14.25" fill="#a22b62"/><rect x="98" y="388.64" width="8.44" height="14.25" fill="#932667"/><rect x="105.44" y="388.64" width="8.44" height="14.25" fill="#932667"/><rect x="112.89" y="388.64" width="8.44" height="14.25" fill="#932667"/><rect x="120.33" y="388.64" width="8.44" height="14.25" fill="#932667"/><rect x="127.78" y="388.64" width="8.44" height="14.25" fill="#932667"/><rect x="135.22" y="388.64" width="8.44" height="14.25" fill="#932667"/><rect x="142.67" y="388.64" width="8.44" height="14.25" fill="#932667"/><rect x="150.11" y="388.64" width="8.44" height="14.25" fill="#85216b"/><rect x="157.56" y="388.64" width="8.44" height="14.25" fill="#85216b"/><rect x="165" y="388.64" width="8.44" height="14.25" fill="#85216b"/><rect x="172.44" y="388.64" width="8.44" height="14.25" fill="#85216b"/><rect x="179.89" y="388.64" width="8.44" height="14.25" fill="#85216b"/><rect x="187.33" y="388.64" width="8.44" height="14.25" fill="#85216b"/><rect x="194.78" y="388.64" width="8.44" height="14.25" fill="#932667"/><rect x="202.22" y="388.64" width="8.44" height="14.25" fill="#932667"/><rect x="209.67" y="388.64" width="8.44" height="14.25" fill="#932667"/><rect x="217.11" y="388.64" width="8.44" height="14.25" fill="#a22b62"/><rect x="224.56" y="388.64" width="8.44" height="14.25" fill="#a22b62"/><rect x="232" y="388.64" width="8.44" height="14.25" fill="#b0315b"/><rect x="239.44" y="388.64" width="8.44" height="14.25" fill="#bd3853"/><rect x="246.89" y="388.64" width="8.44" height="14.25" fill="#ca404a"/><rect x="254.33" y="388.64" width="8.44" height="14.25" fill="#d54a41"/><rect x="261.78" y="388.64" width="8.44" height="14.25" fill="#e05536"/><rect x="269.22" y="388.64" width="8.44" height="14.25" fill="#f06f20"/><rect x="276.67" y="388.64" width="8.44" height="14.25" fill="#f7d340"/><rect x="284.11" y="388.64" width="8.44" height="14.25" fill="#fcffa4"/><rect x="291.56" y="388.64" width="7.44" height="14.25" fill="#fcffa4"/><rect x="31" y="401.9" width="8.44" height="14.25" fill="#e9612b"/><rect x="38.44" y="401.9" width="8.44" height="14.25" fill="#932667"/><rect x="45.89" y="401.9" width="8.44" height="14.25" fill="#771c6d"/><rect x="53.33" y="401.9" width="8.44" height="14.25" fill="#771c6d"/><rect x="60.78" y="401.9" width="8.44" height="14.25" fill="#771c6d"/><rect x="68.22" y="401.9" width="8.44" height="14.25" fill="#771c6d"/><rect x="75.67" y="401.9" width="8.44" height="14.25" fill="#771c6d"/><rect x="83.11" y="401.9" width="8.44" height="14.25" fill="#771c6d"/><rect x="90.56" y="401.9" width="8.44" height="14.25" fill="#771c6d"/><rect x="98" y="401.9" width="8.44" height="14.25" fill="#771c6d"/><rect x="105.44" y="401.9" width="8.44" height="14.25" fill="#771c6d"/><rect x="112.89" y="401.9" width="8.44" height="14.25" fill="#771c6d"/><rect x="120.33" y="401.9" width="8.44" height="14.25" fill="#771c6d"/><rect x="127.78" y="401.9" width="8.44" height="14.25" fill="#771c6d"/><rect x="135.22" y="401.9" width="8.44" height="14.25" fill="#771c6d"/><rect x="142.67" y="401.9" width="8.44" height="14.25" fill="#771c6d"/><rect x="150.11" y="401.9" width="8.44" height="14.25" fill="#771c6d"/><rect x="157.56" y="401.9" width="8.44" height="14.25" fill="#771c6d"/><rect x="165" y="401.9" width="8.44" height="14.25" fill="#771c6d"/><rect x="172.44" y="401.9" width="8.44" height="14.25" fill="#771c6d"/><rect x="179.89" y="401.9" width="8.44" height="14.25" fill="#771c6d"/><rect x="187.33" y="401.9" width="8.44" height="14.25" fill="#771c6d"/><rect x="194.78" y="401.9" width="8.44" height="14.25" fill="#771c6d"/><rect x="202.22" y="401.9" width="8.44" height="14.25" fill="#771c6d"/><rect x="209.67" y="401.9" width="8.44" height="14.25" fill="#771c6d"/><rect x="217.11" y="401.9" width="8.44" height="14.25" fill="#85216b"/><rect x="224.56" y="401.9" width="8.44" height="14.25" fill="#85216b"/><rect x="232" y="401.9" width="8.44" height="14.25" fill="#932667"/><rect x="239.44" y="401.9" width="8.44" height="14.25" fill="#932667"/><rect x="246.89" y="401.9" width="8.44" height="14.25" fill="#a22b62"/><rect x="254.33" y="401.9" width="8.44" height="14.25" fill="#b0315b"/><rect x="261.78" y="401.9" width="8.44" height="14.25" fill="#bd3853"/><rect x="269.22" y="401.9" width="8.44" height="14.25" fill="#e05536"/><rect x="276.67" y="401.9" width="8.44" height="14.25" fill="#f06f20"/><rect x="284.11" y="401.9" width="8.44" height="14.25" fill="#fcb014"/><rect x="291.56" y="401.9" width="7.44" height="14.25" fill="#fcffa4"/><rect x="31" y="415.15" width="8.44" height="13.25" fill="#bd3853"/><rect x="38.44" y="415.15" width="8.44" height="13.25" fill="#771c6d"/><rect x="45.89" y="415.15" width="8.44" height="13.25" fill="#4c0c6b"/><rect x="53.33" y="415.15" width="8.44" height="13.25" fill="#4c0c6b"/><rect x="60.78" y="415.15" width="8.44" height="13.25" fill="#4c0c6b"/><rect x="68.22" y="415.15" width="8.44" height="13.25" fill="#4c0c6b"/><rect x="75.67" y="415.15" width="8.44" height="13.25" fill="#4c0c6b"/><rect x="83.11" y="415.15" width="8.44" height="13.25" fill="#4c0c6b"/><rect x="90.56" y="415.15" width="8.44" height="13.25" fill="#3d0965"/><rect x="98" y="415.15" width="8.44" height="13.25" fill="#3d0965"/><rect x="105.44" y="415.15" width="8.44" height="13.25" fill="#3d0965"/><rect x="112.89" y="415.15" width="8.44" height="13.25" fill="#3d0965"/><rect x="120.33" y="415.15" width="8.44" height="13.25" fill="#3d0965"/><rect x="127.78" y="415.15" width="8.44" height="13.25" fill="#3d0965"/><rect x="135.22" y="415.15" width="8.44" height="13.25" fill="#3d0965"/><rect x="142.67" y="415.15" width="8.44" height="13.25" fill="#3d0965"/><rect x="150.11" y="415.15" width="8.44" height="13.25" fill="#2d0b59"/><rect x="157.56" y="415.15" width="8.44" height="13.25" fill="#2d0b59"/><rect x="165" y="415.15" width="8.44" height="13.25" fill="#2d0b59"/><rect x="172.44" y="415.15" width="8.44" height="13.25" fill="#2d0b59"/><rect x="179.89" y="415.15" width="8.44" height="13.25" fill="#2d0b59"/><rect x="187.33" y="415.15" width="8.44" height="13.25" fill="#2d0b59"/><rect x="194.78" y="415.15" width="8.44" height="13.25" fill="#2d0b59"/><rect x="202.22" y="415.15" width="8.44" height="13.25" fill="#3d0965"/><rect x="209.67" y="415.15" width="8.44" height="13.25" fill="#3d0965"/><rect x="217.11" y="415.15" width="8.44" height="13.25" fill="#3d0965"/><rect x="224.56" y="415.15" width="8.44" height="13.25" fill="#4c0c6b"/><rect x="232" y="415.15" width="8.44" height="13.25" fill="#4c0c6b"/><rect x="239.44" y="415.15" width="8.44" height="13.25" fill="#5a116e"/><rect x="246.89" y="415.15" width="8.44" height="13.25" fill="#69166e"/><rect x="254.33" y="415.15" width="8.44" height="13.25" fill="#771c6d"/><rect x="261.78" y="415.15" width="8.44" height="13.25" fill="#85216b"/><rect x="269.22" y="415.15" width="8.44" height="13.25" fill="#932667"/><rect x="276.67" y="415.15" width="8.44" height="13.25" fill="#b0315b"/><rect x="284.11" y="415.15" width="8.44" height="13.25" fill="#ca404a"/><rect x="291.56" y="415.15" width="7.44" height="13.25" fill="#f98e09"/></g>
<path d="M27.5 236.2V434.8H303.3" stroke="#555" stroke-width="1" fill="none"/>
<path d="M46.1 434.8v-2.6M83.35 434.8v-2.6M120.6 434.8v-2.6M157.85 434.8v-2.6M195.1 434.8v-2.6M232.35 434.8v-2.6M269.6 434.8v-2.6M27.5 421.8h2.6M27.5 382.04h2.6M27.5 342.28h2.6M27.5 302.51h2.6M27.5 262.75h2.6" stroke="#555" stroke-width="1" fill="none"/>
<g font-size="7.6"><text x="46.1" y="444.4" text-anchor="middle">5</text><text x="83.35" y="444.4" text-anchor="middle">10</text><text x="120.6" y="444.4" text-anchor="middle">15</text><text x="157.85" y="444.4" text-anchor="middle">20</text><text x="195.1" y="444.4" text-anchor="middle">25</text><text x="232.35" y="444.4" text-anchor="middle">30</text><text x="269.6" y="444.4" text-anchor="middle">35</text><text x="22.9" y="424.5" text-anchor="end">0</text><text x="22.9" y="384.74" text-anchor="end">3</text><text x="22.9" y="344.98" text-anchor="end">6</text><text x="22.9" y="305.21" text-anchor="end">9</text><text x="22.9" y="265.45" text-anchor="end">12</text></g>
<text x="165.6" y="456" text-anchor="middle" font-size="10.85" style="stroke:none;fill:#303030">end-to-end distance [Å]</text>
<text transform="translate(8.3 335.6) rotate(-90)" text-anchor="middle" font-size="10.65" style="stroke:none;fill:#303030">number of hbonds</text>
<rect x="310.3" y="236.2" width="10.3" height="198" fill="url(#cbg)"/>
<path d="M320.6 235.7V434.2" stroke="#4a4a4a" stroke-width="1" fill="none"/>
<path d="M320.6 236.2h3.4M320.6 271.13h3.4M320.6 306.07h3.4M320.6 341h3.4M320.6 375.93h3.4M320.6 410.86h3.4" stroke="#4a4a4a" stroke-width="1" fill="none"/>
<g font-size="7.6"><text x="326.2" y="238.6">0</text><text x="326.2" y="273.53">−2.5</text><text x="326.2" y="308.47">−5.0</text><text x="326.2" y="343.4">−7.5</text><text x="326.2" y="378.33">−10.0</text><text x="326.2" y="413.26">−12.5</text></g>
<path d="M380.2 236.2V434.8M450.97 236.2V434.8M521.74 236.2V434.8M592.51 236.2V434.8M380.2 421.8H656.4M380.2 382.04H656.4M380.2 342.28H656.4M380.2 302.51H656.4M380.2 262.75H656.4" stroke="#efefef" stroke-width="0.7" fill="none"/>
<g><rect x="400.9" y="242.87" width="8.09" height="14.25" fill="#fcffa4"/><rect x="407.99" y="242.87" width="8.09" height="14.25" fill="#fcffa4"/><rect x="415.07" y="242.87" width="8.09" height="14.25" fill="#fcffa4"/><rect x="422.16" y="242.87" width="8.09" height="14.25" fill="#fcffa4"/><rect x="429.24" y="242.87" width="8.09" height="14.25" fill="#fcffa4"/><rect x="436.33" y="242.87" width="8.09" height="14.25" fill="#fcffa4"/><rect x="443.42" y="242.87" width="8.09" height="14.25" fill="#fcffa4"/><rect x="450.5" y="242.87" width="8.09" height="14.25" fill="#fcffa4"/><rect x="457.59" y="242.87" width="8.09" height="14.25" fill="#fcffa4"/><rect x="464.67" y="242.87" width="8.09" height="14.25" fill="#fcffa4"/><rect x="471.76" y="242.87" width="8.09" height="14.25" fill="#fcffa4"/><rect x="478.85" y="242.87" width="8.09" height="14.25" fill="#fcffa4"/><rect x="485.93" y="242.87" width="8.09" height="14.25" fill="#fcffa4"/><rect x="493.02" y="242.87" width="8.09" height="14.25" fill="#fcffa4"/><rect x="500.11" y="242.87" width="8.09" height="14.25" fill="#fcffa4"/><rect x="507.19" y="242.87" width="8.09" height="14.25" fill="#fcffa4"/><rect x="514.28" y="242.87" width="8.09" height="14.25" fill="#771c6d"/><rect x="521.36" y="242.87" width="8.09" height="14.25" fill="#010108"/><rect x="528.45" y="242.87" width="8.09" height="14.25" fill="#010108"/><rect x="535.54" y="242.87" width="8.09" height="14.25" fill="#771c6d"/><rect x="542.62" y="242.87" width="8.09" height="14.25" fill="#f3e55d"/><rect x="549.71" y="242.87" width="8.09" height="14.25" fill="#fcffa4"/><rect x="556.79" y="242.87" width="8.09" height="14.25" fill="#fcffa4"/><rect x="563.88" y="242.87" width="8.09" height="14.25" fill="#fcffa4"/><rect x="570.97" y="242.87" width="8.09" height="14.25" fill="#fcffa4"/><rect x="578.05" y="242.87" width="8.09" height="14.25" fill="#fcffa4"/><rect x="585.14" y="242.87" width="8.09" height="14.25" fill="#fcffa4"/><rect x="592.23" y="242.87" width="8.09" height="14.25" fill="#fcffa4"/><rect x="599.31" y="242.87" width="8.09" height="14.25" fill="#fcffa4"/><rect x="606.4" y="242.87" width="8.09" height="14.25" fill="#fcffa4"/><rect x="613.48" y="242.87" width="8.09" height="14.25" fill="#fcffa4"/><rect x="620.57" y="242.87" width="8.09" height="14.25" fill="#fcffa4"/><rect x="627.66" y="242.87" width="8.09" height="14.25" fill="#fcffa4"/><rect x="634.74" y="242.87" width="8.09" height="14.25" fill="#fcffa4"/><rect x="641.83" y="242.87" width="8.09" height="14.25" fill="#fcffa4"/><rect x="648.91" y="242.87" width="7.09" height="14.25" fill="#fcffa4"/><rect x="400.9" y="256.12" width="8.09" height="14.25" fill="#fcffa4"/><rect x="407.99" y="256.12" width="8.09" height="14.25" fill="#fcffa4"/><rect x="415.07" y="256.12" width="8.09" height="14.25" fill="#fcffa4"/><rect x="422.16" y="256.12" width="8.09" height="14.25" fill="#fcffa4"/><rect x="429.24" y="256.12" width="8.09" height="14.25" fill="#fcffa4"/><rect x="436.33" y="256.12" width="8.09" height="14.25" fill="#fcffa4"/><rect x="443.42" y="256.12" width="8.09" height="14.25" fill="#fcffa4"/><rect x="450.5" y="256.12" width="8.09" height="14.25" fill="#fcffa4"/><rect x="457.59" y="256.12" width="8.09" height="14.25" fill="#fcffa4"/><rect x="464.67" y="256.12" width="8.09" height="14.25" fill="#fcffa4"/><rect x="471.76" y="256.12" width="8.09" height="14.25" fill="#fcffa4"/><rect x="478.85" y="256.12" width="8.09" height="14.25" fill="#fcffa4"/><rect x="485.93" y="256.12" width="8.09" height="14.25" fill="#fcffa4"/><rect x="493.02" y="256.12" width="8.09" height="14.25" fill="#fcffa4"/><rect x="500.11" y="256.12" width="8.09" height="14.25" fill="#fc9f07"/><rect x="507.19" y="256.12" width="8.09" height="14.25" fill="#e05536"/><rect x="514.28" y="256.12" width="8.09" height="14.25" fill="#85216b"/><rect x="521.36" y="256.12" width="8.09" height="14.25" fill="#07051b"/><rect x="528.45" y="256.12" width="8.09" height="14.25" fill="#07051b"/><rect x="535.54" y="256.12" width="8.09" height="14.25" fill="#69166e"/><rect x="542.62" y="256.12" width="8.09" height="14.25" fill="#e05536"/><rect x="549.71" y="256.12" width="8.09" height="14.25" fill="#fcffa4"/><rect x="556.79" y="256.12" width="8.09" height="14.25" fill="#fcffa4"/><rect x="563.88" y="256.12" width="8.09" height="14.25" fill="#fcffa4"/><rect x="570.97" y="256.12" width="8.09" height="14.25" fill="#fcffa4"/><rect x="578.05" y="256.12" width="8.09" height="14.25" fill="#fcffa4"/><rect x="585.14" y="256.12" width="8.09" height="14.25" fill="#fcffa4"/><rect x="592.23" y="256.12" width="8.09" height="14.25" fill="#fcffa4"/><rect x="599.31" y="256.12" width="8.09" height="14.25" fill="#fcffa4"/><rect x="606.4" y="256.12" width="8.09" height="14.25" fill="#fcffa4"/><rect x="613.48" y="256.12" width="8.09" height="14.25" fill="#fcffa4"/><rect x="620.57" y="256.12" width="8.09" height="14.25" fill="#fcffa4"/><rect x="627.66" y="256.12" width="8.09" height="14.25" fill="#fcffa4"/><rect x="634.74" y="256.12" width="8.09" height="14.25" fill="#fcffa4"/><rect x="641.83" y="256.12" width="8.09" height="14.25" fill="#fcffa4"/><rect x="648.91" y="256.12" width="7.09" height="14.25" fill="#fcffa4"/><rect x="400.9" y="269.37" width="8.09" height="14.25" fill="#fcffa4"/><rect x="407.99" y="269.37" width="8.09" height="14.25" fill="#fcffa4"/><rect x="415.07" y="269.37" width="8.09" height="14.25" fill="#fcffa4"/><rect x="422.16" y="269.37" width="8.09" height="14.25" fill="#fcffa4"/><rect x="429.24" y="269.37" width="8.09" height="14.25" fill="#fcffa4"/><rect x="436.33" y="269.37" width="8.09" height="14.25" fill="#fcffa4"/><rect x="443.42" y="269.37" width="8.09" height="14.25" fill="#fcffa4"/><rect x="450.5" y="269.37" width="8.09" height="14.25" fill="#fcffa4"/><rect x="457.59" y="269.37" width="8.09" height="14.25" fill="#fcffa4"/><rect x="464.67" y="269.37" width="8.09" height="14.25" fill="#fcffa4"/><rect x="471.76" y="269.37" width="8.09" height="14.25" fill="#fcffa4"/><rect x="478.85" y="269.37" width="8.09" height="14.25" fill="#fc9f07"/><rect x="485.93" y="269.37" width="8.09" height="14.25" fill="#f98e09"/><rect x="493.02" y="269.37" width="8.09" height="14.25" fill="#d54a41"/><rect x="500.11" y="269.37" width="8.09" height="14.25" fill="#771c6d"/><rect x="507.19" y="269.37" width="8.09" height="14.25" fill="#4c0c6b"/><rect x="514.28" y="269.37" width="8.09" height="14.25" fill="#1e0c45"/><rect x="521.36" y="269.37" width="8.09" height="14.25" fill="#1e0c45"/><rect x="528.45" y="269.37" width="8.09" height="14.25" fill="#1e0c45"/><rect x="535.54" y="269.37" width="8.09" height="14.25" fill="#2d0b59"/><rect x="542.62" y="269.37" width="8.09" height="14.25" fill="#110a30"/><rect x="549.71" y="269.37" width="8.09" height="14.25" fill="#4c0c6b"/><rect x="556.79" y="269.37" width="8.09" height="14.25" fill="#fc9f07"/><rect x="563.88" y="269.37" width="8.09" height="14.25" fill="#fcffa4"/><rect x="570.97" y="269.37" width="8.09" height="14.25" fill="#fcffa4"/><rect x="578.05" y="269.37" width="8.09" height="14.25" fill="#fcffa4"/><rect x="585.14" y="269.37" width="8.09" height="14.25" fill="#fcffa4"/><rect x="592.23" y="269.37" width="8.09" height="14.25" fill="#fcffa4"/><rect x="599.31" y="269.37" width="8.09" height="14.25" fill="#fcffa4"/><rect x="606.4" y="269.37" width="8.09" height="14.25" fill="#fcffa4"/><rect x="613.48" y="269.37" width="8.09" height="14.25" fill="#fcffa4"/><rect x="620.57" y="269.37" width="8.09" height="14.25" fill="#fcffa4"/><rect x="627.66" y="269.37" width="8.09" height="14.25" fill="#fcffa4"/><rect x="634.74" y="269.37" width="8.09" height="14.25" fill="#fcffa4"/><rect x="641.83" y="269.37" width="8.09" height="14.25" fill="#fcffa4"/><rect x="648.91" y="269.37" width="7.09" height="14.25" fill="#fcffa4"/><rect x="400.9" y="282.63" width="8.09" height="14.25" fill="#fcffa4"/><rect x="407.99" y="282.63" width="8.09" height="14.25" fill="#fcffa4"/><rect x="415.07" y="282.63" width="8.09" height="14.25" fill="#fcffa4"/><rect x="422.16" y="282.63" width="8.09" height="14.25" fill="#fcffa4"/><rect x="429.24" y="282.63" width="8.09" height="14.25" fill="#fcffa4"/><rect x="436.33" y="282.63" width="8.09" height="14.25" fill="#fcffa4"/><rect x="443.42" y="282.63" width="8.09" height="14.25" fill="#f3e55d"/><rect x="450.5" y="282.63" width="8.09" height="14.25" fill="#fc9f07"/><rect x="457.59" y="282.63" width="8.09" height="14.25" fill="#e9612b"/><rect x="464.67" y="282.63" width="8.09" height="14.25" fill="#e9612b"/><rect x="471.76" y="282.63" width="8.09" height="14.25" fill="#ca404a"/><rect x="478.85" y="282.63" width="8.09" height="14.25" fill="#771c6d"/><rect x="485.93" y="282.63" width="8.09" height="14.25" fill="#4c0c6b"/><rect x="493.02" y="282.63" width="8.09" height="14.25" fill="#4c0c6b"/><rect x="500.11" y="282.63" width="8.09" height="14.25" fill="#69166e"/><rect x="507.19" y="282.63" width="8.09" height="14.25" fill="#5a116e"/><rect x="514.28" y="282.63" width="8.09" height="14.25" fill="#4c0c6b"/><rect x="521.36" y="282.63" width="8.09" height="14.25" fill="#4c0c6b"/><rect x="528.45" y="282.63" width="8.09" height="14.25" fill="#4c0c6b"/><rect x="535.54" y="282.63" width="8.09" height="14.25" fill="#3d0965"/><rect x="542.62" y="282.63" width="8.09" height="14.25" fill="#2d0b59"/><rect x="549.71" y="282.63" width="8.09" height="14.25" fill="#4c0c6b"/><rect x="556.79" y="282.63" width="8.09" height="14.25" fill="#85216b"/><rect x="563.88" y="282.63" width="8.09" height="14.25" fill="#e9612b"/><rect x="570.97" y="282.63" width="8.09" height="14.25" fill="#fcffa4"/><rect x="578.05" y="282.63" width="8.09" height="14.25" fill="#fcffa4"/><rect x="585.14" y="282.63" width="8.09" height="14.25" fill="#fcffa4"/><rect x="592.23" y="282.63" width="8.09" height="14.25" fill="#fcffa4"/><rect x="599.31" y="282.63" width="8.09" height="14.25" fill="#fcffa4"/><rect x="606.4" y="282.63" width="8.09" height="14.25" fill="#fcffa4"/><rect x="613.48" y="282.63" width="8.09" height="14.25" fill="#fcffa4"/><rect x="620.57" y="282.63" width="8.09" height="14.25" fill="#fcffa4"/><rect x="627.66" y="282.63" width="8.09" height="14.25" fill="#fcffa4"/><rect x="634.74" y="282.63" width="8.09" height="14.25" fill="#fcffa4"/><rect x="641.83" y="282.63" width="8.09" height="14.25" fill="#fcffa4"/><rect x="648.91" y="282.63" width="7.09" height="14.25" fill="#fcffa4"/><rect x="400.9" y="295.88" width="8.09" height="14.25" fill="#fcffa4"/><rect x="407.99" y="295.88" width="8.09" height="14.25" fill="#fcffa4"/><rect x="415.07" y="295.88" width="8.09" height="14.25" fill="#fcffa4"/><rect x="422.16" y="295.88" width="8.09" height="14.25" fill="#fcffa4"/><rect x="429.24" y="295.88" width="8.09" height="14.25" fill="#fc9f07"/><rect x="436.33" y="295.88" width="8.09" height="14.25" fill="#bd3853"/><rect x="443.42" y="295.88" width="8.09" height="14.25" fill="#a22b62"/><rect x="450.5" y="295.88" width="8.09" height="14.25" fill="#932667"/><rect x="457.59" y="295.88" width="8.09" height="14.25" fill="#771c6d"/><rect x="464.67" y="295.88" width="8.09" height="14.25" fill="#69166e"/><rect x="471.76" y="295.88" width="8.09" height="14.25" fill="#771c6d"/><rect x="478.85" y="295.88" width="8.09" height="14.25" fill="#771c6d"/><rect x="485.93" y="295.88" width="8.09" height="14.25" fill="#69166e"/><rect x="493.02" y="295.88" width="8.09" height="14.25" fill="#69166e"/><rect x="500.11" y="295.88" width="8.09" height="14.25" fill="#771c6d"/><rect x="507.19" y="295.88" width="8.09" height="14.25" fill="#69166e"/><rect x="514.28" y="295.88" width="8.09" height="14.25" fill="#5a116e"/><rect x="521.36" y="295.88" width="8.09" height="14.25" fill="#5a116e"/><rect x="528.45" y="295.88" width="8.09" height="14.25" fill="#4c0c6b"/><rect x="535.54" y="295.88" width="8.09" height="14.25" fill="#4c0c6b"/><rect x="542.62" y="295.88" width="8.09" height="14.25" fill="#5a116e"/><rect x="549.71" y="295.88" width="8.09" height="14.25" fill="#5a116e"/><rect x="556.79" y="295.88" width="8.09" height="14.25" fill="#771c6d"/><rect x="563.88" y="295.88" width="8.09" height="14.25" fill="#932667"/><rect x="570.97" y="295.88" width="8.09" height="14.25" fill="#e05536"/><rect x="578.05" y="295.88" width="8.09" height="14.25" fill="#fac228"/><rect x="585.14" y="295.88" width="8.09" height="14.25" fill="#fcffa4"/><rect x="592.23" y="295.88" width="8.09" height="14.25" fill="#fcffa4"/><rect x="599.31" y="295.88" width="8.09" height="14.25" fill="#fcffa4"/><rect x="606.4" y="295.88" width="8.09" height="14.25" fill="#fcffa4"/><rect x="613.48" y="295.88" width="8.09" height="14.25" fill="#fcffa4"/><rect x="620.57" y="295.88" width="8.09" height="14.25" fill="#fcffa4"/><rect x="627.66" y="295.88" width="8.09" height="14.25" fill="#fcffa4"/><rect x="634.74" y="295.88" width="8.09" height="14.25" fill="#fcffa4"/><rect x="641.83" y="295.88" width="8.09" height="14.25" fill="#fcffa4"/><rect x="648.91" y="295.88" width="7.09" height="14.25" fill="#fcffa4"/><rect x="400.9" y="309.13" width="8.09" height="14.25" fill="#fcffa4"/><rect x="407.99" y="309.13" width="8.09" height="14.25" fill="#fcffa4"/><rect x="415.07" y="309.13" width="8.09" height="14.25" fill="#fcffa4"/><rect x="422.16" y="309.13" width="8.09" height="14.25" fill="#fcffa4"/><rect x="429.24" y="309.13" width="8.09" height="14.25" fill="#fc9f07"/><rect x="436.33" y="309.13" width="8.09" height="14.25" fill="#bd3853"/><rect x="443.42" y="309.13" width="8.09" height="14.25" fill="#b0315b"/><rect x="450.5" y="309.13" width="8.09" height="14.25" fill="#a22b62"/><rect x="457.59" y="309.13" width="8.09" height="14.25" fill="#932667"/><rect x="464.67" y="309.13" width="8.09" height="14.25" fill="#932667"/><rect x="471.76" y="309.13" width="8.09" height="14.25" fill="#85216b"/><rect x="478.85" y="309.13" width="8.09" height="14.25" fill="#85216b"/><rect x="485.93" y="309.13" width="8.09" height="14.25" fill="#85216b"/><rect x="493.02" y="309.13" width="8.09" height="14.25" fill="#85216b"/><rect x="500.11" y="309.13" width="8.09" height="14.25" fill="#85216b"/><rect x="507.19" y="309.13" width="8.09" height="14.25" fill="#771c6d"/><rect x="514.28" y="309.13" width="8.09" height="14.25" fill="#69166e"/><rect x="521.36" y="309.13" width="8.09" height="14.25" fill="#69166e"/><rect x="528.45" y="309.13" width="8.09" height="14.25" fill="#5a116e"/><rect x="535.54" y="309.13" width="8.09" height="14.25" fill="#69166e"/><rect x="542.62" y="309.13" width="8.09" height="14.25" fill="#69166e"/><rect x="549.71" y="309.13" width="8.09" height="14.25" fill="#771c6d"/><rect x="556.79" y="309.13" width="8.09" height="14.25" fill="#85216b"/><rect x="563.88" y="309.13" width="8.09" height="14.25" fill="#932667"/><rect x="570.97" y="309.13" width="8.09" height="14.25" fill="#b0315b"/><rect x="578.05" y="309.13" width="8.09" height="14.25" fill="#e05536"/><rect x="585.14" y="309.13" width="8.09" height="14.25" fill="#fac228"/><rect x="592.23" y="309.13" width="8.09" height="14.25" fill="#fcffa4"/><rect x="599.31" y="309.13" width="8.09" height="14.25" fill="#fcffa4"/><rect x="606.4" y="309.13" width="8.09" height="14.25" fill="#fcffa4"/><rect x="613.48" y="309.13" width="8.09" height="14.25" fill="#fcffa4"/><rect x="620.57" y="309.13" width="8.09" height="14.25" fill="#fcffa4"/><rect x="627.66" y="309.13" width="8.09" height="14.25" fill="#fcffa4"/><rect x="634.74" y="309.13" width="8.09" height="14.25" fill="#fcffa4"/><rect x="641.83" y="309.13" width="8.09" height="14.25" fill="#fcffa4"/><rect x="648.91" y="309.13" width="7.09" height="14.25" fill="#fcffa4"/><rect x="400.9" y="322.38" width="8.09" height="14.25" fill="#fc9f07"/><rect x="407.99" y="322.38" width="8.09" height="14.25" fill="#e9612b"/><rect x="415.07" y="322.38" width="8.09" height="14.25" fill="#e9612b"/><rect x="422.16" y="322.38" width="8.09" height="14.25" fill="#e05536"/><rect x="429.24" y="322.38" width="8.09" height="14.25" fill="#e05536"/><rect x="436.33" y="322.38" width="8.09" height="14.25" fill="#d54a41"/><rect x="443.42" y="322.38" width="8.09" height="14.25" fill="#d54a41"/><rect x="450.5" y="322.38" width="8.09" height="14.25" fill="#ca404a"/><rect x="457.59" y="322.38" width="8.09" height="14.25" fill="#bd3853"/><rect x="464.67" y="322.38" width="8.09" height="14.25" fill="#b0315b"/><rect x="471.76" y="322.38" width="8.09" height="14.25" fill="#a22b62"/><rect x="478.85" y="322.38" width="8.09" height="14.25" fill="#932667"/><rect x="485.93" y="322.38" width="8.09" height="14.25" fill="#932667"/><rect x="493.02" y="322.38" width="8.09" height="14.25" fill="#932667"/><rect x="500.11" y="322.38" width="8.09" height="14.25" fill="#932667"/><rect x="507.19" y="322.38" width="8.09" height="14.25" fill="#85216b"/><rect x="514.28" y="322.38" width="8.09" height="14.25" fill="#85216b"/><rect x="521.36" y="322.38" width="8.09" height="14.25" fill="#771c6d"/><rect x="528.45" y="322.38" width="8.09" height="14.25" fill="#771c6d"/><rect x="535.54" y="322.38" width="8.09" height="14.25" fill="#771c6d"/><rect x="542.62" y="322.38" width="8.09" height="14.25" fill="#85216b"/><rect x="549.71" y="322.38" width="8.09" height="14.25" fill="#85216b"/><rect x="556.79" y="322.38" width="8.09" height="14.25" fill="#932667"/><rect x="563.88" y="322.38" width="8.09" height="14.25" fill="#932667"/><rect x="570.97" y="322.38" width="8.09" height="14.25" fill="#a22b62"/><rect x="578.05" y="322.38" width="8.09" height="14.25" fill="#ca404a"/><rect x="585.14" y="322.38" width="8.09" height="14.25" fill="#f98e09"/><rect x="592.23" y="322.38" width="8.09" height="14.25" fill="#fcffa4"/><rect x="599.31" y="322.38" width="8.09" height="14.25" fill="#fcffa4"/><rect x="606.4" y="322.38" width="8.09" height="14.25" fill="#fcffa4"/><rect x="613.48" y="322.38" width="8.09" height="14.25" fill="#fcffa4"/><rect x="620.57" y="322.38" width="8.09" height="14.25" fill="#fcffa4"/><rect x="627.66" y="322.38" width="8.09" height="14.25" fill="#fcffa4"/><rect x="634.74" y="322.38" width="8.09" height="14.25" fill="#fcffa4"/><rect x="641.83" y="322.38" width="8.09" height="14.25" fill="#fcffa4"/><rect x="648.91" y="322.38" width="7.09" height="14.25" fill="#fcffa4"/><rect x="400.9" y="335.63" width="8.09" height="14.25" fill="#f7d340"/><rect x="407.99" y="335.63" width="8.09" height="14.25" fill="#f98e09"/><rect x="415.07" y="335.63" width="8.09" height="14.25" fill="#f06f20"/><rect x="422.16" y="335.63" width="8.09" height="14.25" fill="#e05536"/><rect x="429.24" y="335.63" width="8.09" height="14.25" fill="#e05536"/><rect x="436.33" y="335.63" width="8.09" height="14.25" fill="#e9612b"/><rect x="443.42" y="335.63" width="8.09" height="14.25" fill="#e05536"/><rect x="450.5" y="335.63" width="8.09" height="14.25" fill="#e05536"/><rect x="457.59" y="335.63" width="8.09" height="14.25" fill="#d54a41"/><rect x="464.67" y="335.63" width="8.09" height="14.25" fill="#ca404a"/><rect x="471.76" y="335.63" width="8.09" height="14.25" fill="#bd3853"/><rect x="478.85" y="335.63" width="8.09" height="14.25" fill="#b0315b"/><rect x="485.93" y="335.63" width="8.09" height="14.25" fill="#a22b62"/><rect x="493.02" y="335.63" width="8.09" height="14.25" fill="#a22b62"/><rect x="500.11" y="335.63" width="8.09" height="14.25" fill="#a22b62"/><rect x="507.19" y="335.63" width="8.09" height="14.25" fill="#a22b62"/><rect x="514.28" y="335.63" width="8.09" height="14.25" fill="#a22b62"/><rect x="521.36" y="335.63" width="8.09" height="14.25" fill="#932667"/><rect x="528.45" y="335.63" width="8.09" height="14.25" fill="#932667"/><rect x="535.54" y="335.63" width="8.09" height="14.25" fill="#932667"/><rect x="542.62" y="335.63" width="8.09" height="14.25" fill="#932667"/><rect x="549.71" y="335.63" width="8.09" height="14.25" fill="#932667"/><rect x="556.79" y="335.63" width="8.09" height="14.25" fill="#932667"/><rect x="563.88" y="335.63" width="8.09" height="14.25" fill="#932667"/><rect x="570.97" y="335.63" width="8.09" height="14.25" fill="#85216b"/><rect x="578.05" y="335.63" width="8.09" height="14.25" fill="#a22b62"/><rect x="585.14" y="335.63" width="8.09" height="14.25" fill="#ca404a"/><rect x="592.23" y="335.63" width="8.09" height="14.25" fill="#f98e09"/><rect x="599.31" y="335.63" width="8.09" height="14.25" fill="#fcffa4"/><rect x="606.4" y="335.63" width="8.09" height="14.25" fill="#fcffa4"/><rect x="613.48" y="335.63" width="8.09" height="14.25" fill="#fcffa4"/><rect x="620.57" y="335.63" width="8.09" height="14.25" fill="#fcffa4"/><rect x="627.66" y="335.63" width="8.09" height="14.25" fill="#fcffa4"/><rect x="634.74" y="335.63" width="8.09" height="14.25" fill="#fcffa4"/><rect x="641.83" y="335.63" width="8.09" height="14.25" fill="#fcffa4"/><rect x="648.91" y="335.63" width="7.09" height="14.25" fill="#fcffa4"/><rect x="400.9" y="348.89" width="8.09" height="14.25" fill="#fcffa4"/><rect x="407.99" y="348.89" width="8.09" height="14.25" fill="#fcb014"/><rect x="415.07" y="348.89" width="8.09" height="14.25" fill="#f98e09"/><rect x="422.16" y="348.89" width="8.09" height="14.25" fill="#e9612b"/><rect x="429.24" y="348.89" width="8.09" height="14.25" fill="#e05536"/><rect x="436.33" y="348.89" width="8.09" height="14.25" fill="#d54a41"/><rect x="443.42" y="348.89" width="8.09" height="14.25" fill="#ca404a"/><rect x="450.5" y="348.89" width="8.09" height="14.25" fill="#d54a41"/><rect x="457.59" y="348.89" width="8.09" height="14.25" fill="#e05536"/><rect x="464.67" y="348.89" width="8.09" height="14.25" fill="#e05536"/><rect x="471.76" y="348.89" width="8.09" height="14.25" fill="#e05536"/><rect x="478.85" y="348.89" width="8.09" height="14.25" fill="#d54a41"/><rect x="485.93" y="348.89" width="8.09" height="14.25" fill="#bd3853"/><rect x="493.02" y="348.89" width="8.09" height="14.25" fill="#bd3853"/><rect x="500.11" y="348.89" width="8.09" height="14.25" fill="#bd3853"/><rect x="507.19" y="348.89" width="8.09" height="14.25" fill="#85216b"/><rect x="514.28" y="348.89" width="8.09" height="14.25" fill="#932667"/><rect x="521.36" y="348.89" width="8.09" height="14.25" fill="#b0315b"/><rect x="528.45" y="348.89" width="8.09" height="14.25" fill="#b0315b"/><rect x="535.54" y="348.89" width="8.09" height="14.25" fill="#b0315b"/><rect x="542.62" y="348.89" width="8.09" height="14.25" fill="#932667"/><rect x="549.71" y="348.89" width="8.09" height="14.25" fill="#932667"/><rect x="556.79" y="348.89" width="8.09" height="14.25" fill="#932667"/><rect x="563.88" y="348.89" width="8.09" height="14.25" fill="#932667"/><rect x="570.97" y="348.89" width="8.09" height="14.25" fill="#bd3853"/><rect x="578.05" y="348.89" width="8.09" height="14.25" fill="#ca404a"/><rect x="585.14" y="348.89" width="8.09" height="14.25" fill="#e05536"/><rect x="592.23" y="348.89" width="8.09" height="14.25" fill="#f98e09"/><rect x="599.31" y="348.89" width="8.09" height="14.25" fill="#fcffa4"/><rect x="606.4" y="348.89" width="8.09" height="14.25" fill="#fcffa4"/><rect x="613.48" y="348.89" width="8.09" height="14.25" fill="#fcffa4"/><rect x="620.57" y="348.89" width="8.09" height="14.25" fill="#fcffa4"/><rect x="627.66" y="348.89" width="8.09" height="14.25" fill="#fcffa4"/><rect x="634.74" y="348.89" width="8.09" height="14.25" fill="#fcffa4"/><rect x="641.83" y="348.89" width="8.09" height="14.25" fill="#fcffa4"/><rect x="648.91" y="348.89" width="7.09" height="14.25" fill="#fcffa4"/><rect x="400.9" y="362.14" width="8.09" height="14.25" fill="#fcffa4"/><rect x="407.99" y="362.14" width="8.09" height="14.25" fill="#fcb014"/><rect x="415.07" y="362.14" width="8.09" height="14.25" fill="#f98e09"/><rect x="422.16" y="362.14" width="8.09" height="14.25" fill="#e05536"/><rect x="429.24" y="362.14" width="8.09" height="14.25" fill="#d54a41"/><rect x="436.33" y="362.14" width="8.09" height="14.25" fill="#ca404a"/><rect x="443.42" y="362.14" width="8.09" height="14.25" fill="#ca404a"/><rect x="450.5" y="362.14" width="8.09" height="14.25" fill="#d54a41"/><rect x="457.59" y="362.14" width="8.09" height="14.25" fill="#b0315b"/><rect x="464.67" y="362.14" width="8.09" height="14.25" fill="#932667"/><rect x="471.76" y="362.14" width="8.09" height="14.25" fill="#932667"/><rect x="478.85" y="362.14" width="8.09" height="14.25" fill="#bd3853"/><rect x="485.93" y="362.14" width="8.09" height="14.25" fill="#ca404a"/><rect x="493.02" y="362.14" width="8.09" height="14.25" fill="#ca404a"/><rect x="500.11" y="362.14" width="8.09" height="14.25" fill="#bd3853"/><rect x="507.19" y="362.14" width="8.09" height="14.25" fill="#a22b62"/><rect x="514.28" y="362.14" width="8.09" height="14.25" fill="#932667"/><rect x="521.36" y="362.14" width="8.09" height="14.25" fill="#bd3853"/><rect x="528.45" y="362.14" width="8.09" height="14.25" fill="#bd3853"/><rect x="535.54" y="362.14" width="8.09" height="14.25" fill="#bd3853"/><rect x="542.62" y="362.14" width="8.09" height="14.25" fill="#bd3853"/><rect x="549.71" y="362.14" width="8.09" height="14.25" fill="#bd3853"/><rect x="556.79" y="362.14" width="8.09" height="14.25" fill="#bd3853"/><rect x="563.88" y="362.14" width="8.09" height="14.25" fill="#bd3853"/><rect x="570.97" y="362.14" width="8.09" height="14.25" fill="#d54a41"/><rect x="578.05" y="362.14" width="8.09" height="14.25" fill="#d54a41"/><rect x="585.14" y="362.14" width="8.09" height="14.25" fill="#e9612b"/><rect x="592.23" y="362.14" width="8.09" height="14.25" fill="#fac228"/><rect x="599.31" y="362.14" width="8.09" height="14.25" fill="#fcffa4"/><rect x="606.4" y="362.14" width="8.09" height="14.25" fill="#fcffa4"/><rect x="613.48" y="362.14" width="8.09" height="14.25" fill="#fcffa4"/><rect x="620.57" y="362.14" width="8.09" height="14.25" fill="#fcffa4"/><rect x="627.66" y="362.14" width="8.09" height="14.25" fill="#fcffa4"/><rect x="634.74" y="362.14" width="8.09" height="14.25" fill="#fcffa4"/><rect x="641.83" y="362.14" width="8.09" height="14.25" fill="#fcffa4"/><rect x="648.91" y="362.14" width="7.09" height="14.25" fill="#fcffa4"/><rect x="400.9" y="375.39" width="8.09" height="14.25" fill="#fcffa4"/><rect x="407.99" y="375.39" width="8.09" height="14.25" fill="#f7d340"/><rect x="415.07" y="375.39" width="8.09" height="14.25" fill="#f98e09"/><rect x="422.16" y="375.39" width="8.09" height="14.25" fill="#ca404a"/><rect x="429.24" y="375.39" width="8.09" height="14.25" fill="#ca404a"/><rect x="436.33" y="375.39" width="8.09" height="14.25" fill="#85216b"/><rect x="443.42" y="375.39" width="8.09" height="14.25" fill="#85216b"/><rect x="450.5" y="375.39" width="8.09" height="14.25" fill="#85216b"/><rect x="457.59" y="375.39" width="8.09" height="14.25" fill="#932667"/><rect x="464.67" y="375.39" width="8.09" height="14.25" fill="#932667"/><rect x="471.76" y="375.39" width="8.09" height="14.25" fill="#932667"/><rect x="478.85" y="375.39" width="8.09" height="14.25" fill="#b0315b"/><rect x="485.93" y="375.39" width="8.09" height="14.25" fill="#bd3853"/><rect x="493.02" y="375.39" width="8.09" height="14.25" fill="#bd3853"/><rect x="500.11" y="375.39" width="8.09" height="14.25" fill="#bd3853"/><rect x="507.19" y="375.39" width="8.09" height="14.25" fill="#bd3853"/><rect x="514.28" y="375.39" width="8.09" height="14.25" fill="#b0315b"/><rect x="521.36" y="375.39" width="8.09" height="14.25" fill="#bd3853"/><rect x="528.45" y="375.39" width="8.09" height="14.25" fill="#ca404a"/><rect x="535.54" y="375.39" width="8.09" height="14.25" fill="#ca404a"/><rect x="542.62" y="375.39" width="8.09" height="14.25" fill="#e05536"/><rect x="549.71" y="375.39" width="8.09" height="14.25" fill="#e9612b"/><rect x="556.79" y="375.39" width="8.09" height="14.25" fill="#f06f20"/><rect x="563.88" y="375.39" width="8.09" height="14.25" fill="#f67e14"/><rect x="570.97" y="375.39" width="8.09" height="14.25" fill="#f67e14"/><rect x="578.05" y="375.39" width="8.09" height="14.25" fill="#f67e14"/><rect x="585.14" y="375.39" width="8.09" height="14.25" fill="#fcb014"/><rect x="592.23" y="375.39" width="8.09" height="14.25" fill="#f3e55d"/><rect x="599.31" y="375.39" width="8.09" height="14.25" fill="#fcffa4"/><rect x="606.4" y="375.39" width="8.09" height="14.25" fill="#fcffa4"/><rect x="613.48" y="375.39" width="8.09" height="14.25" fill="#fcffa4"/><rect x="620.57" y="375.39" width="8.09" height="14.25" fill="#fcffa4"/><rect x="627.66" y="375.39" width="8.09" height="14.25" fill="#fcffa4"/><rect x="634.74" y="375.39" width="8.09" height="14.25" fill="#fcffa4"/><rect x="641.83" y="375.39" width="8.09" height="14.25" fill="#fcffa4"/><rect x="648.91" y="375.39" width="7.09" height="14.25" fill="#fcffa4"/><rect x="400.9" y="388.64" width="8.09" height="14.25" fill="#fcffa4"/><rect x="407.99" y="388.64" width="8.09" height="14.25" fill="#fcb014"/><rect x="415.07" y="388.64" width="8.09" height="14.25" fill="#e05536"/><rect x="422.16" y="388.64" width="8.09" height="14.25" fill="#ca404a"/><rect x="429.24" y="388.64" width="8.09" height="14.25" fill="#bd3853"/><rect x="436.33" y="388.64" width="8.09" height="14.25" fill="#85216b"/><rect x="443.42" y="388.64" width="8.09" height="14.25" fill="#85216b"/><rect x="450.5" y="388.64" width="8.09" height="14.25" fill="#85216b"/><rect x="457.59" y="388.64" width="8.09" height="14.25" fill="#85216b"/><rect x="464.67" y="388.64" width="8.09" height="14.25" fill="#932667"/><rect x="471.76" y="388.64" width="8.09" height="14.25" fill="#932667"/><rect x="478.85" y="388.64" width="8.09" height="14.25" fill="#932667"/><rect x="485.93" y="388.64" width="8.09" height="14.25" fill="#85216b"/><rect x="493.02" y="388.64" width="8.09" height="14.25" fill="#85216b"/><rect x="500.11" y="388.64" width="8.09" height="14.25" fill="#85216b"/><rect x="507.19" y="388.64" width="8.09" height="14.25" fill="#85216b"/><rect x="514.28" y="388.64" width="8.09" height="14.25" fill="#85216b"/><rect x="521.36" y="388.64" width="8.09" height="14.25" fill="#85216b"/><rect x="528.45" y="388.64" width="8.09" height="14.25" fill="#932667"/><rect x="535.54" y="388.64" width="8.09" height="14.25" fill="#932667"/><rect x="542.62" y="388.64" width="8.09" height="14.25" fill="#932667"/><rect x="549.71" y="388.64" width="8.09" height="14.25" fill="#932667"/><rect x="556.79" y="388.64" width="8.09" height="14.25" fill="#a22b62"/><rect x="563.88" y="388.64" width="8.09" height="14.25" fill="#a22b62"/><rect x="570.97" y="388.64" width="8.09" height="14.25" fill="#932667"/><rect x="578.05" y="388.64" width="8.09" height="14.25" fill="#932667"/><rect x="585.14" y="388.64" width="8.09" height="14.25" fill="#a22b62"/><rect x="592.23" y="388.64" width="8.09" height="14.25" fill="#ca404a"/><rect x="599.31" y="388.64" width="8.09" height="14.25" fill="#f98e09"/><rect x="606.4" y="388.64" width="8.09" height="14.25" fill="#f7d340"/><rect x="613.48" y="388.64" width="8.09" height="14.25" fill="#fcffa4"/><rect x="620.57" y="388.64" width="8.09" height="14.25" fill="#fcffa4"/><rect x="627.66" y="388.64" width="8.09" height="14.25" fill="#fcffa4"/><rect x="634.74" y="388.64" width="8.09" height="14.25" fill="#fcffa4"/><rect x="641.83" y="388.64" width="8.09" height="14.25" fill="#fcffa4"/><rect x="648.91" y="388.64" width="7.09" height="14.25" fill="#fcffa4"/><rect x="400.9" y="401.9" width="8.09" height="14.25" fill="#f98e09"/><rect x="407.99" y="401.9" width="8.09" height="14.25" fill="#bd3853"/><rect x="415.07" y="401.9" width="8.09" height="14.25" fill="#85216b"/><rect x="422.16" y="401.9" width="8.09" height="14.25" fill="#85216b"/><rect x="429.24" y="401.9" width="8.09" height="14.25" fill="#85216b"/><rect x="436.33" y="401.9" width="8.09" height="14.25" fill="#85216b"/><rect x="443.42" y="401.9" width="8.09" height="14.25" fill="#85216b"/><rect x="450.5" y="401.9" width="8.09" height="14.25" fill="#85216b"/><rect x="457.59" y="401.9" width="8.09" height="14.25" fill="#85216b"/><rect x="464.67" y="401.9" width="8.09" height="14.25" fill="#85216b"/><rect x="471.76" y="401.9" width="8.09" height="14.25" fill="#85216b"/><rect x="478.85" y="401.9" width="8.09" height="14.25" fill="#85216b"/><rect x="485.93" y="401.9" width="8.09" height="14.25" fill="#85216b"/><rect x="493.02" y="401.9" width="8.09" height="14.25" fill="#85216b"/><rect x="500.11" y="401.9" width="8.09" height="14.25" fill="#85216b"/><rect x="507.19" y="401.9" width="8.09" height="14.25" fill="#85216b"/><rect x="514.28" y="401.9" width="8.09" height="14.25" fill="#85216b"/><rect x="521.36" y="401.9" width="8.09" height="14.25" fill="#85216b"/><rect x="528.45" y="401.9" width="8.09" height="14.25" fill="#85216b"/><rect x="535.54" y="401.9" width="8.09" height="14.25" fill="#85216b"/><rect x="542.62" y="401.9" width="8.09" height="14.25" fill="#85216b"/><rect x="549.71" y="401.9" width="8.09" height="14.25" fill="#85216b"/><rect x="556.79" y="401.9" width="8.09" height="14.25" fill="#85216b"/><rect x="563.88" y="401.9" width="8.09" height="14.25" fill="#932667"/><rect x="570.97" y="401.9" width="8.09" height="14.25" fill="#932667"/><rect x="578.05" y="401.9" width="8.09" height="14.25" fill="#a22b62"/><rect x="585.14" y="401.9" width="8.09" height="14.25" fill="#b0315b"/><rect x="592.23" y="401.9" width="8.09" height="14.25" fill="#bd3853"/><rect x="599.31" y="401.9" width="8.09" height="14.25" fill="#ca404a"/><rect x="606.4" y="401.9" width="8.09" height="14.25" fill="#ca404a"/><rect x="613.48" y="401.9" width="8.09" height="14.25" fill="#ca404a"/><rect x="620.57" y="401.9" width="8.09" height="14.25" fill="#f06f20"/><rect x="627.66" y="401.9" width="8.09" height="14.25" fill="#f06f20"/><rect x="634.74" y="401.9" width="8.09" height="14.25" fill="#fc9f07"/><rect x="641.83" y="401.9" width="8.09" height="14.25" fill="#fcffa4"/><rect x="648.91" y="401.9" width="7.09" height="14.25" fill="#fcffa4"/><rect x="400.9" y="415.15" width="8.09" height="13.25" fill="#d54a41"/><rect x="407.99" y="415.15" width="8.09" height="13.25" fill="#85216b"/><rect x="415.07" y="415.15" width="8.09" height="13.25" fill="#69166e"/><rect x="422.16" y="415.15" width="8.09" height="13.25" fill="#69166e"/><rect x="429.24" y="415.15" width="8.09" height="13.25" fill="#69166e"/><rect x="436.33" y="415.15" width="8.09" height="13.25" fill="#69166e"/><rect x="443.42" y="415.15" width="8.09" height="13.25" fill="#5a116e"/><rect x="450.5" y="415.15" width="8.09" height="13.25" fill="#5a116e"/><rect x="457.59" y="415.15" width="8.09" height="13.25" fill="#5a116e"/><rect x="464.67" y="415.15" width="8.09" height="13.25" fill="#5a116e"/><rect x="471.76" y="415.15" width="8.09" height="13.25" fill="#5a116e"/><rect x="478.85" y="415.15" width="8.09" height="13.25" fill="#5a116e"/><rect x="485.93" y="415.15" width="8.09" height="13.25" fill="#5a116e"/><rect x="493.02" y="415.15" width="8.09" height="13.25" fill="#5a116e"/><rect x="500.11" y="415.15" width="8.09" height="13.25" fill="#5a116e"/><rect x="507.19" y="415.15" width="8.09" height="13.25" fill="#5a116e"/><rect x="514.28" y="415.15" width="8.09" height="13.25" fill="#5a116e"/><rect x="521.36" y="415.15" width="8.09" height="13.25" fill="#5a116e"/><rect x="528.45" y="415.15" width="8.09" height="13.25" fill="#5a116e"/><rect x="535.54" y="415.15" width="8.09" height="13.25" fill="#5a116e"/><rect x="542.62" y="415.15" width="8.09" height="13.25" fill="#5a116e"/><rect x="549.71" y="415.15" width="8.09" height="13.25" fill="#5a116e"/><rect x="556.79" y="415.15" width="8.09" height="13.25" fill="#69166e"/><rect x="563.88" y="415.15" width="8.09" height="13.25" fill="#69166e"/><rect x="570.97" y="415.15" width="8.09" height="13.25" fill="#5a116e"/><rect x="578.05" y="415.15" width="8.09" height="13.25" fill="#69166e"/><rect x="585.14" y="415.15" width="8.09" height="13.25" fill="#69166e"/><rect x="592.23" y="415.15" width="8.09" height="13.25" fill="#771c6d"/><rect x="599.31" y="415.15" width="8.09" height="13.25" fill="#771c6d"/><rect x="606.4" y="415.15" width="8.09" height="13.25" fill="#85216b"/><rect x="613.48" y="415.15" width="8.09" height="13.25" fill="#85216b"/><rect x="620.57" y="415.15" width="8.09" height="13.25" fill="#932667"/><rect x="627.66" y="415.15" width="8.09" height="13.25" fill="#932667"/><rect x="634.74" y="415.15" width="8.09" height="13.25" fill="#b0315b"/><rect x="641.83" y="415.15" width="8.09" height="13.25" fill="#ca404a"/><rect x="648.91" y="415.15" width="7.09" height="13.25" fill="#f98e09"/></g>
<path d="M380.2 236.2V434.8H656.4" stroke="#555" stroke-width="1" fill="none"/>
<path d="M380.2 434.8v-2.6M450.97 434.8v-2.6M521.74 434.8v-2.6M592.51 434.8v-2.6M380.2 421.8h2.6M380.2 382.04h2.6M380.2 342.28h2.6M380.2 302.51h2.6M380.2 262.75h2.6" stroke="#555" stroke-width="1" fill="none"/>
<g font-size="7.6"><text x="380.2" y="444.4" text-anchor="middle">0</text><text x="450.97" y="444.4" text-anchor="middle">10</text><text x="521.74" y="444.4" text-anchor="middle">20</text><text x="592.51" y="444.4" text-anchor="middle">30</text><text x="375.6" y="424.5" text-anchor="end">0</text><text x="375.6" y="384.74" text-anchor="end">3</text><text x="375.6" y="344.98" text-anchor="end">6</text><text x="375.6" y="305.21" text-anchor="end">9</text><text x="375.6" y="265.45" text-anchor="end">12</text></g>
<text x="518.5" y="456" text-anchor="middle" font-size="10.85" style="stroke:none;fill:#303030">end-to-end distance [Å]</text>
<text transform="translate(361 335.6) rotate(-90)" text-anchor="middle" font-size="10.65" style="stroke:none;fill:#303030">number of hbonds</text>
<rect x="663" y="236.2" width="10.4" height="198" fill="url(#cbg)"/>
<path d="M673.4 235.7V434.2" stroke="#4a4a4a" stroke-width="1" fill="none"/>
<path d="M673.4 236.2h3.4M673.4 271.13h3.4M673.4 306.07h3.4M673.4 341h3.4M673.4 375.93h3.4M673.4 410.86h3.4" stroke="#4a4a4a" stroke-width="1" fill="none"/>
<g font-size="7.6"><text x="679" y="238.6">0</text><text x="679" y="273.53">−2.5</text><text x="679" y="308.47">−5.0</text><text x="679" y="343.4">−7.5</text><text x="679" y="378.33">−10.0</text><text x="679" y="413.26">−12.5</text></g>
</svg></body></html>
